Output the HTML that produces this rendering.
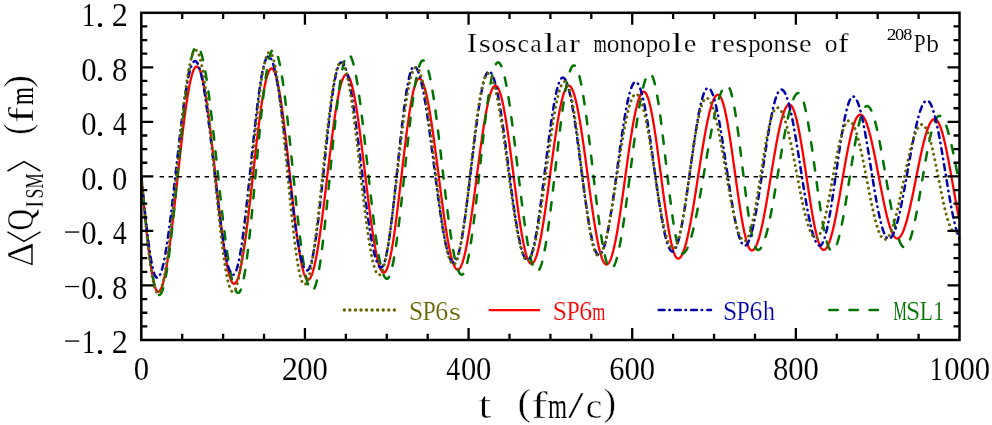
<!DOCTYPE html>
<html><head><meta charset="utf-8"><title>Isoscalar monopole response</title>
<style>html,body{margin:0;padding:0;background:#fff;width:992px;height:425px;overflow:hidden}
text{font-family:"Liberation Serif",serif}</style></head><body>
<svg width="992" height="425" viewBox="0 0 992 425" style="display:block;will-change:transform">
<rect width="992" height="425" fill="#fff"/>
<g font-family="Liberation Serif, serif">
<g fill="none" stroke-linejoin="round">
<path d="M141.30,176.40 L141.80,181.76 L142.30,187.11 L142.80,192.44 L143.30,197.73 L143.80,202.97 L144.30,208.16 L144.80,213.28 L145.30,218.32 L145.80,223.27 L146.30,228.12 L146.80,232.86 L147.30,237.47 L147.80,241.95 L148.30,246.30 L148.80,250.49 L149.30,254.52 L149.80,258.38 L150.30,262.06 L150.80,265.56 L151.30,268.87 L151.80,271.98 L152.30,274.88 L152.80,277.57 L153.30,280.04 L153.80,282.28 L154.30,284.30 L154.80,286.09 L155.30,287.63 L155.80,288.94 L156.30,290.01 L156.80,290.82 L157.30,291.40 L157.80,291.72 L158.20,291.80 L158.70,291.71 L159.20,291.43 L159.70,290.96 L160.20,290.30 L160.70,289.46 L161.20,288.44 L161.70,287.24 L162.20,285.85 L162.70,284.29 L163.20,282.55 L163.70,280.64 L164.20,278.57 L164.70,276.32 L165.20,273.92 L165.70,271.35 L166.20,268.64 L166.70,265.77 L167.20,262.76 L167.70,259.61 L168.20,256.33 L168.70,252.92 L169.20,249.39 L169.70,245.74 L170.20,241.97 L170.70,238.11 L171.20,234.14 L171.70,230.09 L172.20,225.95 L172.70,221.73 L173.20,217.44 L173.70,213.09 L174.20,208.68 L174.70,204.22 L175.20,199.72 L175.70,195.18 L176.20,190.62 L176.70,186.04 L177.20,181.45 L177.70,176.85 L178.20,172.26 L178.70,167.68 L179.20,163.12 L179.70,158.58 L180.20,154.08 L180.70,149.62 L181.20,145.21 L181.70,140.86 L182.20,136.57 L182.70,132.35 L183.20,128.21 L183.70,124.16 L184.20,120.19 L184.70,116.33 L185.20,112.56 L185.70,108.91 L186.20,105.38 L186.70,101.97 L187.20,98.69 L187.70,95.54 L188.20,92.53 L188.70,89.66 L189.20,86.95 L189.70,84.38 L190.20,81.98 L190.70,79.73 L191.20,77.66 L191.70,75.75 L192.20,74.01 L192.70,72.45 L193.20,71.06 L193.70,69.86 L194.20,68.84 L194.70,68.00 L195.20,67.34 L195.70,66.87 L196.20,66.59 L196.70,66.50 L197.20,66.60 L197.70,66.88 L198.20,67.36 L198.70,68.03 L199.20,68.89 L199.70,69.93 L200.20,71.16 L200.70,72.58 L201.20,74.17 L201.70,75.94 L202.20,77.89 L202.70,80.01 L203.20,82.30 L203.70,84.75 L204.20,87.36 L204.70,90.12 L205.20,93.04 L205.70,96.10 L206.20,99.30 L206.70,102.63 L207.20,106.09 L207.70,109.67 L208.20,113.37 L208.70,117.18 L209.20,121.09 L209.70,125.09 L210.20,129.19 L210.70,133.36 L211.20,137.61 L211.70,141.92 L212.20,146.30 L212.70,150.72 L213.20,155.19 L213.70,159.69 L214.20,164.22 L214.70,168.77 L215.20,173.32 L215.70,177.89 L216.20,182.45 L216.70,186.99 L217.20,191.52 L217.70,196.01 L218.20,200.47 L218.70,204.88 L219.20,209.25 L219.70,213.55 L220.20,217.78 L220.70,221.94 L221.20,226.01 L221.70,230.00 L222.20,233.89 L222.70,237.68 L223.20,241.35 L223.70,244.91 L224.20,248.35 L224.70,251.65 L225.20,254.83 L225.70,257.86 L226.20,260.74 L226.70,263.48 L227.20,266.06 L227.70,268.47 L228.20,270.73 L228.70,272.81 L229.20,274.73 L229.70,276.46 L230.20,278.02 L230.70,279.40 L231.20,280.59 L231.70,281.60 L232.20,282.42 L232.70,283.05 L233.20,283.49 L233.70,283.74 L234.10,283.80 L234.60,283.71 L235.10,283.42 L235.60,282.95 L236.10,282.29 L236.60,281.45 L237.10,280.42 L237.60,279.21 L238.10,277.81 L238.60,276.24 L239.10,274.49 L239.60,272.57 L240.10,270.48 L240.60,268.23 L241.10,265.81 L241.60,263.24 L242.10,260.51 L242.60,257.64 L243.10,254.62 L243.60,251.47 L244.10,248.18 L244.60,244.77 L245.10,241.24 L245.60,237.59 L246.10,233.83 L246.60,229.98 L247.10,226.02 L247.60,221.99 L248.10,217.87 L248.60,213.67 L249.10,209.42 L249.60,205.10 L250.10,200.73 L250.60,196.32 L251.10,191.88 L251.60,187.40 L252.10,182.91 L252.60,178.40 L253.10,173.90 L253.60,169.39 L254.10,164.90 L254.60,160.42 L255.10,155.98 L255.60,151.57 L256.10,147.20 L256.60,142.88 L257.10,138.63 L257.60,134.43 L258.10,130.31 L258.60,126.28 L259.10,122.32 L259.60,118.47 L260.10,114.71 L260.60,111.06 L261.10,107.53 L261.60,104.12 L262.10,100.83 L262.60,97.68 L263.10,94.66 L263.60,91.79 L264.10,89.06 L264.60,86.49 L265.10,84.07 L265.60,81.82 L266.10,79.73 L266.60,77.81 L267.10,76.06 L267.60,74.49 L268.10,73.09 L268.60,71.88 L269.10,70.85 L269.60,70.01 L270.10,69.35 L270.60,68.88 L271.10,68.59 L271.60,68.50 L272.10,68.60 L272.60,68.89 L273.10,69.38 L273.60,70.07 L274.10,70.95 L274.60,72.02 L275.10,73.28 L275.60,74.73 L276.10,76.37 L276.60,78.19 L277.10,80.18 L277.60,82.35 L278.10,84.69 L278.60,87.20 L279.10,89.87 L279.60,92.70 L280.10,95.68 L280.60,98.80 L281.10,102.07 L281.60,105.47 L282.10,108.99 L282.60,112.64 L283.10,116.41 L283.60,120.28 L284.10,124.25 L284.60,128.31 L285.10,132.46 L285.60,136.69 L286.10,140.98 L286.60,145.34 L287.10,149.75 L287.60,154.21 L288.10,158.70 L288.60,163.23 L289.10,167.77 L289.60,172.33 L290.10,176.89 L290.60,181.44 L291.10,185.98 L291.60,190.50 L292.10,194.98 L292.60,199.43 L293.10,203.84 L293.60,208.18 L294.10,212.47 L294.60,216.68 L295.10,220.81 L295.60,224.86 L296.10,228.81 L296.60,232.66 L297.10,236.40 L297.60,240.02 L298.10,243.52 L298.60,246.90 L299.10,250.13 L299.60,253.23 L300.10,256.18 L300.60,258.97 L301.10,261.61 L301.60,264.09 L302.10,266.40 L302.60,268.53 L303.10,270.49 L303.60,272.27 L304.10,273.87 L304.60,275.28 L305.10,276.51 L305.60,277.54 L306.10,278.38 L306.60,279.03 L307.10,279.48 L307.60,279.74 L308.00,279.80 L308.50,279.71 L309.00,279.45 L309.50,279.02 L310.00,278.42 L310.50,277.65 L311.00,276.71 L311.50,275.60 L312.00,274.32 L312.50,272.89 L313.00,271.29 L313.50,269.53 L314.00,267.62 L314.50,265.55 L315.00,263.34 L315.50,260.98 L316.00,258.48 L316.50,255.84 L317.00,253.08 L317.50,250.18 L318.00,247.16 L318.50,244.02 L319.00,240.77 L319.50,237.42 L320.00,233.96 L320.50,230.41 L321.00,226.76 L321.50,223.04 L322.00,219.23 L322.50,215.36 L323.00,211.42 L323.50,207.43 L324.00,203.38 L324.50,199.29 L325.00,195.16 L325.50,191.00 L326.00,186.82 L326.50,182.62 L327.00,178.41 L327.50,174.20 L328.00,170.00 L328.50,165.81 L329.00,161.63 L329.50,157.49 L330.00,153.37 L330.50,149.30 L331.00,145.27 L331.50,141.30 L332.00,137.38 L332.50,133.54 L333.00,129.76 L333.50,126.07 L334.00,122.46 L334.50,118.94 L335.00,115.53 L335.50,112.21 L336.00,109.01 L336.50,105.92 L337.00,102.95 L337.50,100.10 L338.00,97.38 L338.50,94.80 L339.00,92.36 L339.50,90.06 L340.00,87.90 L340.50,85.90 L341.00,84.05 L341.50,82.35 L342.00,80.82 L342.50,79.45 L343.00,78.24 L343.50,77.20 L344.00,76.32 L344.50,75.62 L345.00,75.08 L345.50,74.72 L346.00,74.53 L346.30,74.50 L346.80,74.59 L347.30,74.85 L347.80,75.28 L348.30,75.89 L348.80,76.67 L349.30,77.61 L349.80,78.73 L350.30,80.01 L350.80,81.46 L351.30,83.07 L351.80,84.83 L352.30,86.76 L352.80,88.83 L353.30,91.06 L353.80,93.43 L354.30,95.94 L354.80,98.58 L355.30,101.36 L355.80,104.26 L356.30,107.29 L356.80,110.43 L357.30,113.68 L357.80,117.04 L358.30,120.50 L358.80,124.05 L359.30,127.69 L359.80,131.41 L360.30,135.20 L360.80,139.06 L361.30,142.98 L361.80,146.95 L362.30,150.97 L362.80,155.03 L363.30,159.12 L363.80,163.24 L364.30,167.38 L364.80,171.52 L365.30,175.68 L365.80,179.82 L366.30,183.96 L366.80,188.08 L367.30,192.17 L367.80,196.23 L368.30,200.25 L368.80,204.22 L369.30,208.14 L369.80,212.00 L370.30,215.79 L370.80,219.51 L371.30,223.15 L371.80,226.70 L372.30,230.16 L372.80,233.52 L373.30,236.77 L373.80,239.91 L374.30,242.94 L374.80,245.84 L375.30,248.62 L375.80,251.26 L376.30,253.77 L376.80,256.14 L377.30,258.37 L377.80,260.44 L378.30,262.37 L378.80,264.13 L379.30,265.74 L379.80,267.19 L380.30,268.47 L380.80,269.59 L381.30,270.53 L381.80,271.31 L382.30,271.92 L382.80,272.35 L383.30,272.61 L383.80,272.70 L384.30,272.60 L384.80,272.32 L385.30,271.84 L385.80,271.17 L386.30,270.32 L386.80,269.28 L387.30,268.05 L387.80,266.65 L388.30,265.06 L388.80,263.30 L389.30,261.36 L389.80,259.26 L390.30,256.99 L390.80,254.56 L391.30,251.97 L391.80,249.24 L392.30,246.36 L392.80,243.34 L393.30,240.19 L393.80,236.91 L394.30,233.51 L394.80,229.99 L395.30,226.37 L395.80,222.65 L396.30,218.84 L396.80,214.94 L397.30,210.96 L397.80,206.91 L398.30,202.81 L398.80,198.64 L399.30,194.44 L399.80,190.19 L400.30,185.92 L400.80,181.63 L401.30,177.32 L401.80,173.02 L402.30,168.71 L402.80,164.42 L403.30,160.15 L403.80,155.92 L404.30,151.72 L404.80,147.57 L405.30,143.47 L405.80,139.44 L406.30,135.48 L406.80,131.59 L407.30,127.80 L407.80,124.10 L408.30,120.50 L408.80,117.00 L409.30,113.63 L409.80,110.37 L410.30,107.25 L410.80,104.25 L411.30,101.40 L411.80,98.70 L412.30,96.14 L412.80,93.75 L413.30,91.51 L413.80,89.44 L414.30,87.54 L414.80,85.81 L415.30,84.26 L415.80,82.89 L416.30,81.70 L416.80,80.69 L417.30,79.88 L417.80,79.25 L418.30,78.81 L418.80,78.56 L419.20,78.50 L419.70,78.58 L420.20,78.82 L420.70,79.22 L421.20,79.77 L421.70,80.48 L422.20,81.35 L422.70,82.37 L423.20,83.55 L423.70,84.87 L424.20,86.35 L424.70,87.97 L425.20,89.73 L425.70,91.63 L426.20,93.68 L426.70,95.85 L427.20,98.16 L427.70,100.59 L428.20,103.14 L428.70,105.81 L429.20,108.60 L429.70,111.50 L430.20,114.49 L430.70,117.59 L431.20,120.78 L431.70,124.07 L432.20,127.43 L432.70,130.87 L433.20,134.39 L433.70,137.97 L434.20,141.61 L434.70,145.30 L435.20,149.04 L435.70,152.83 L436.20,156.65 L436.70,160.49 L437.20,164.37 L437.70,168.25 L438.20,172.15 L438.70,176.05 L439.20,179.95 L439.70,183.83 L440.20,187.71 L440.70,191.55 L441.20,195.37 L441.70,199.16 L442.20,202.90 L442.70,206.59 L443.20,210.23 L443.70,213.81 L444.20,217.33 L444.70,220.77 L445.20,224.13 L445.70,227.42 L446.20,230.61 L446.70,233.71 L447.20,236.70 L447.70,239.60 L448.20,242.39 L448.70,245.06 L449.20,247.61 L449.70,250.04 L450.20,252.35 L450.70,254.52 L451.20,256.57 L451.70,258.47 L452.20,260.23 L452.70,261.85 L453.20,263.33 L453.70,264.65 L454.20,265.83 L454.70,266.85 L455.20,267.72 L455.70,268.43 L456.20,268.98 L456.70,269.38 L457.20,269.62 L457.70,269.70 L458.20,269.62 L458.70,269.38 L459.20,268.99 L459.70,268.43 L460.20,267.72 L460.70,266.86 L461.20,265.84 L461.70,264.66 L462.20,263.34 L462.70,261.87 L463.20,260.25 L463.70,258.50 L464.20,256.60 L464.70,254.56 L465.20,252.40 L465.70,250.10 L466.20,247.68 L466.70,245.14 L467.20,242.48 L467.70,239.71 L468.20,236.84 L468.70,233.86 L469.20,230.78 L469.70,227.61 L470.20,224.36 L470.70,221.03 L471.20,217.62 L471.70,214.14 L472.20,210.60 L472.70,207.00 L473.20,203.35 L473.70,199.66 L474.20,195.93 L474.70,192.17 L475.20,188.38 L475.70,184.58 L476.20,180.76 L476.70,176.94 L477.20,173.11 L477.70,169.30 L478.20,165.50 L478.70,161.72 L479.20,157.97 L479.70,154.26 L480.20,150.58 L480.70,146.95 L481.20,143.38 L481.70,139.86 L482.20,136.41 L482.70,133.03 L483.20,129.73 L483.70,126.51 L484.20,123.38 L484.70,120.34 L485.20,117.40 L485.70,114.57 L486.20,111.84 L486.70,109.23 L487.20,106.73 L487.70,104.36 L488.20,102.12 L488.70,100.01 L489.20,98.03 L489.70,96.18 L490.20,94.48 L490.70,92.92 L491.20,91.51 L491.70,90.25 L492.20,89.14 L492.70,88.18 L493.20,87.38 L493.70,86.73 L494.20,86.24 L494.70,85.90 L495.20,85.73 L495.50,85.70 L496.00,85.79 L496.50,86.04 L497.00,86.47 L497.50,87.06 L498.00,87.82 L498.50,88.75 L499.00,89.84 L499.50,91.10 L500.00,92.52 L500.50,94.09 L501.00,95.82 L501.50,97.70 L502.00,99.72 L502.50,101.89 L503.00,104.20 L503.50,106.65 L504.00,109.22 L504.50,111.92 L505.00,114.74 L505.50,117.68 L506.00,120.72 L506.50,123.87 L507.00,127.11 L507.50,130.45 L508.00,133.87 L508.50,137.37 L509.00,140.94 L509.50,144.58 L510.00,148.27 L510.50,152.02 L511.00,155.80 L511.50,159.63 L512.00,163.48 L512.50,167.36 L513.00,171.24 L513.50,175.14 L514.00,179.03 L514.50,182.92 L515.00,186.79 L515.50,190.64 L516.00,194.46 L516.50,198.24 L517.00,201.97 L517.50,205.65 L518.00,209.28 L518.50,212.83 L519.00,216.32 L519.50,219.72 L520.00,223.04 L520.50,226.27 L521.00,229.40 L521.50,232.42 L522.00,235.33 L522.50,238.13 L523.00,240.81 L523.50,243.35 L524.00,245.77 L524.50,248.05 L525.00,250.20 L525.50,252.19 L526.00,254.04 L526.50,255.74 L527.00,257.28 L527.50,258.66 L528.00,259.89 L528.50,260.95 L529.00,261.84 L529.50,262.57 L530.00,263.13 L530.50,263.52 L531.00,263.75 L531.40,263.80 L531.90,263.72 L532.40,263.49 L532.90,263.09 L533.40,262.55 L533.90,261.84 L534.40,260.99 L534.90,259.98 L535.40,258.82 L535.90,257.51 L536.40,256.06 L536.90,254.46 L537.40,252.73 L537.90,250.85 L538.40,248.84 L538.90,246.70 L539.40,244.44 L539.90,242.05 L540.40,239.54 L540.90,236.92 L541.40,234.19 L541.90,231.35 L542.40,228.41 L542.90,225.38 L543.40,222.26 L543.90,219.06 L544.40,215.78 L544.90,212.42 L545.40,209.00 L545.90,205.52 L546.40,201.98 L546.90,198.40 L547.40,194.77 L547.90,191.11 L548.40,187.42 L548.90,183.71 L549.40,179.98 L549.90,176.25 L550.40,172.51 L550.90,168.77 L551.40,165.05 L551.90,161.34 L552.40,157.65 L552.90,154.00 L553.40,150.38 L553.90,146.81 L554.40,143.28 L554.90,139.81 L555.40,136.40 L555.90,133.06 L556.40,129.79 L556.90,126.61 L557.40,123.50 L557.90,120.49 L558.40,117.57 L558.90,114.76 L559.40,112.05 L559.90,109.45 L560.40,106.96 L560.90,104.60 L561.40,102.36 L561.90,100.24 L562.40,98.26 L562.90,96.41 L563.40,94.71 L563.90,93.14 L564.40,91.71 L564.90,90.44 L565.40,89.31 L565.90,88.33 L566.40,87.50 L566.90,86.83 L567.40,86.32 L567.90,85.95 L568.40,85.75 L568.80,85.70 L569.30,85.78 L569.80,86.01 L570.30,86.40 L570.80,86.94 L571.30,87.63 L571.80,88.48 L572.30,89.48 L572.80,90.62 L573.30,91.91 L573.80,93.35 L574.30,94.93 L574.80,96.64 L575.30,98.50 L575.80,100.48 L576.30,102.60 L576.80,104.84 L577.30,107.20 L577.80,109.69 L578.30,112.28 L578.80,114.99 L579.30,117.79 L579.80,120.70 L580.30,123.70 L580.80,126.80 L581.30,129.97 L581.80,133.22 L582.30,136.55 L582.80,139.94 L583.30,143.40 L583.80,146.91 L584.30,150.47 L584.80,154.07 L585.30,157.70 L585.80,161.37 L586.30,165.06 L586.80,168.77 L587.30,172.49 L587.80,176.22 L588.30,179.94 L588.80,183.65 L589.30,187.35 L589.80,191.03 L590.30,194.68 L590.80,198.30 L591.30,201.87 L591.80,205.40 L592.30,208.88 L592.80,212.30 L593.30,215.65 L593.80,218.94 L594.30,222.14 L594.80,225.27 L595.30,228.31 L595.80,231.26 L596.30,234.10 L596.80,236.85 L597.30,239.49 L597.80,242.02 L598.30,244.43 L598.80,246.72 L599.30,248.89 L599.80,250.92 L600.30,252.83 L600.80,254.60 L601.30,256.24 L601.80,257.73 L602.30,259.08 L602.80,260.28 L603.30,261.34 L603.80,262.25 L604.30,263.00 L604.80,263.60 L605.30,264.05 L605.80,264.35 L606.30,264.49 L606.50,264.50 L607.00,264.42 L607.50,264.19 L608.00,263.81 L608.50,263.27 L609.00,262.58 L609.50,261.74 L610.00,260.75 L610.50,259.62 L611.00,258.34 L611.50,256.91 L612.00,255.35 L612.50,253.64 L613.00,251.81 L613.50,249.84 L614.00,247.74 L614.50,245.52 L615.00,243.18 L615.50,240.72 L616.00,238.15 L616.50,235.48 L617.00,232.70 L617.50,229.82 L618.00,226.86 L618.50,223.80 L619.00,220.67 L619.50,217.45 L620.00,214.17 L620.50,210.83 L621.00,207.42 L621.50,203.96 L622.00,200.46 L622.50,196.92 L623.00,193.34 L623.50,189.74 L624.00,186.11 L624.50,182.48 L625.00,178.83 L625.50,175.18 L626.00,171.54 L626.50,167.91 L627.00,164.30 L627.50,160.71 L628.00,157.15 L628.50,153.63 L629.00,150.15 L629.50,146.73 L630.00,143.36 L630.50,140.05 L631.00,136.81 L631.50,133.64 L632.00,130.55 L632.50,127.55 L633.00,124.64 L633.50,121.82 L634.00,119.10 L634.50,116.49 L635.00,113.99 L635.50,111.60 L636.00,109.33 L636.50,107.19 L637.00,105.17 L637.50,103.28 L638.00,101.52 L638.50,99.90 L639.00,98.42 L639.50,97.08 L640.00,95.88 L640.50,94.84 L641.00,93.94 L641.50,93.19 L642.00,92.59 L642.50,92.14 L643.00,91.85 L643.50,91.71 L643.70,91.70 L644.20,91.79 L644.70,92.05 L645.20,92.48 L645.70,93.09 L646.20,93.87 L646.70,94.81 L647.20,95.93 L647.70,97.21 L648.20,98.65 L648.70,100.26 L649.20,102.01 L649.70,103.92 L650.20,105.98 L650.70,108.19 L651.20,110.53 L651.70,113.01 L652.20,115.62 L652.70,118.35 L653.20,121.20 L653.70,124.17 L654.20,127.24 L654.70,130.41 L655.20,133.67 L655.70,137.02 L656.20,140.45 L656.70,143.95 L657.20,147.52 L657.70,151.14 L658.20,154.82 L658.70,158.54 L659.20,162.29 L659.70,166.07 L660.20,169.87 L660.70,173.67 L661.20,177.49 L661.70,181.30 L662.20,185.09 L662.70,188.86 L663.20,192.61 L663.70,196.32 L664.20,199.99 L664.70,203.60 L665.20,207.15 L665.70,210.64 L666.20,214.06 L666.70,217.39 L667.20,220.63 L667.70,223.79 L668.20,226.83 L668.70,229.78 L669.20,232.60 L669.70,235.31 L670.20,237.89 L670.70,240.35 L671.20,242.66 L671.70,244.84 L672.20,246.87 L672.70,248.75 L673.20,250.48 L673.70,252.05 L674.20,253.46 L674.70,254.71 L675.20,255.79 L675.70,256.70 L676.20,257.45 L676.70,258.02 L677.20,258.42 L677.70,258.64 L678.10,258.70 L678.60,258.64 L679.10,258.45 L679.60,258.13 L680.10,257.69 L680.60,257.12 L681.10,256.42 L681.60,255.61 L682.10,254.67 L682.60,253.61 L683.10,252.43 L683.60,251.14 L684.10,249.72 L684.60,248.20 L685.10,246.56 L685.60,244.82 L686.10,242.97 L686.60,241.02 L687.10,238.97 L687.60,236.82 L688.10,234.58 L688.60,232.25 L689.10,229.84 L689.60,227.34 L690.10,224.76 L690.60,222.11 L691.10,219.39 L691.60,216.60 L692.10,213.75 L692.60,210.85 L693.10,207.89 L693.60,204.88 L694.10,201.83 L694.60,198.74 L695.10,195.61 L695.60,192.46 L696.10,189.28 L696.60,186.09 L697.10,182.87 L697.60,179.65 L698.10,176.43 L698.60,173.20 L699.10,169.98 L699.60,166.77 L700.10,163.58 L700.60,160.41 L701.10,157.26 L701.60,154.14 L702.10,151.06 L702.60,148.02 L703.10,145.02 L703.60,142.07 L704.10,139.17 L704.60,136.34 L705.10,133.56 L705.60,130.85 L706.10,128.22 L706.60,125.66 L707.10,123.17 L707.60,120.77 L708.10,118.46 L708.60,116.24 L709.10,114.11 L709.60,112.08 L710.10,110.15 L710.60,108.32 L711.10,106.60 L711.60,104.99 L712.10,103.48 L712.60,102.10 L713.10,100.82 L713.60,99.67 L714.10,98.63 L714.60,97.72 L715.10,96.93 L715.60,96.26 L716.10,95.72 L716.60,95.30 L717.10,95.01 L717.60,94.84 L718.00,94.80 L718.50,94.88 L719.00,95.13 L719.50,95.55 L720.00,96.13 L720.50,96.88 L721.00,97.79 L721.50,98.86 L722.00,100.09 L722.50,101.47 L723.00,103.01 L723.50,104.70 L724.00,106.53 L724.50,108.50 L725.00,110.61 L725.50,112.86 L726.00,115.23 L726.50,117.73 L727.00,120.34 L727.50,123.07 L728.00,125.90 L728.50,128.84 L729.00,131.87 L729.50,134.98 L730.00,138.18 L730.50,141.45 L731.00,144.78 L731.50,148.18 L732.00,151.63 L732.50,155.13 L733.00,158.66 L733.50,162.22 L734.00,165.81 L734.50,169.40 L735.00,173.01 L735.50,176.62 L736.00,180.21 L736.50,183.79 L737.00,187.35 L737.50,190.88 L738.00,194.36 L738.50,197.80 L739.00,201.19 L739.50,204.51 L740.00,207.77 L740.50,210.95 L741.00,214.05 L741.50,217.06 L742.00,219.97 L742.50,222.78 L743.00,225.49 L743.50,228.08 L744.00,230.55 L744.50,232.90 L745.00,235.12 L745.50,237.20 L746.00,239.15 L746.50,240.95 L747.00,242.61 L747.50,244.12 L748.00,245.47 L748.50,246.67 L749.00,247.71 L749.50,248.58 L750.00,249.30 L750.50,249.85 L751.00,250.23 L751.50,250.45 L751.90,250.50 L752.40,250.44 L752.90,250.24 L753.40,249.92 L753.90,249.48 L754.40,248.90 L754.90,248.21 L755.40,247.38 L755.90,246.44 L756.40,245.37 L756.90,244.19 L757.40,242.89 L757.90,241.47 L758.40,239.94 L758.90,238.30 L759.40,236.56 L759.90,234.71 L760.40,232.76 L760.90,230.71 L761.40,228.58 L761.90,226.35 L762.40,224.03 L762.90,221.64 L763.40,219.16 L763.90,216.62 L764.40,214.00 L764.90,211.32 L765.40,208.58 L765.90,205.79 L766.40,202.95 L766.90,200.06 L767.40,197.13 L767.90,194.17 L768.40,191.18 L768.90,188.16 L769.40,185.13 L769.90,182.08 L770.40,179.03 L770.90,175.97 L771.40,172.92 L771.90,169.87 L772.40,166.84 L772.90,163.82 L773.40,160.83 L773.90,157.87 L774.40,154.94 L774.90,152.05 L775.40,149.21 L775.90,146.42 L776.40,143.68 L776.90,141.00 L777.40,138.38 L777.90,135.84 L778.40,133.36 L778.90,130.97 L779.40,128.65 L779.90,126.42 L780.40,124.29 L780.90,122.24 L781.40,120.29 L781.90,118.44 L782.40,116.70 L782.90,115.06 L783.40,113.53 L783.90,112.11 L784.40,110.81 L784.90,109.63 L785.40,108.56 L785.90,107.62 L786.40,106.79 L786.90,106.10 L787.40,105.52 L787.90,105.08 L788.40,104.76 L788.90,104.56 L789.40,104.50 L789.90,104.58 L790.40,104.80 L790.90,105.19 L791.40,105.72 L791.90,106.40 L792.40,107.23 L792.90,108.21 L793.40,109.33 L793.90,110.59 L794.40,112.00 L794.90,113.54 L795.40,115.21 L795.90,117.02 L796.40,118.95 L796.90,121.00 L797.40,123.17 L797.90,125.46 L798.40,127.85 L798.90,130.35 L799.40,132.94 L799.90,135.63 L800.40,138.40 L800.90,141.26 L801.40,144.19 L801.90,147.19 L802.40,150.26 L802.90,153.38 L803.40,156.55 L803.90,159.77 L804.40,163.02 L804.90,166.30 L805.40,169.60 L805.90,172.92 L806.40,176.25 L806.90,179.58 L807.40,182.91 L807.90,186.22 L808.40,189.52 L808.90,192.79 L809.40,196.03 L809.90,199.22 L810.40,202.38 L810.90,205.47 L811.40,208.51 L811.90,211.49 L812.40,214.39 L812.90,217.22 L813.40,219.96 L813.90,222.61 L814.40,225.17 L814.90,227.62 L815.40,229.97 L815.90,232.21 L816.40,234.34 L816.90,236.34 L817.40,238.22 L817.90,239.97 L818.40,241.60 L818.90,243.08 L819.40,244.43 L819.90,245.64 L820.40,246.70 L820.90,247.62 L821.40,248.39 L821.90,249.01 L822.40,249.48 L822.90,249.80 L823.40,249.97 L823.70,250.00 L824.20,249.94 L824.70,249.75 L825.20,249.44 L825.70,249.00 L826.20,248.44 L826.70,247.76 L827.20,246.95 L827.70,246.03 L828.20,244.99 L828.70,243.83 L829.20,242.55 L829.70,241.17 L830.20,239.68 L830.70,238.08 L831.20,236.38 L831.70,234.58 L832.20,232.68 L832.70,230.68 L833.20,228.60 L833.70,226.43 L834.20,224.18 L834.70,221.86 L835.20,219.46 L835.70,216.99 L836.20,214.45 L836.70,211.86 L837.20,209.21 L837.70,206.52 L838.20,203.77 L838.70,200.99 L839.20,198.18 L839.70,195.33 L840.20,192.46 L840.70,189.57 L841.20,186.67 L841.70,183.76 L842.20,180.84 L842.70,177.93 L843.20,175.03 L843.70,172.14 L844.20,169.27 L844.70,166.42 L845.20,163.61 L845.70,160.83 L846.20,158.08 L846.70,155.39 L847.20,152.74 L847.70,150.15 L848.20,147.61 L848.70,145.14 L849.20,142.74 L849.70,140.42 L850.20,138.17 L850.70,136.00 L851.20,133.92 L851.70,131.92 L852.20,130.02 L852.70,128.22 L853.20,126.52 L853.70,124.92 L854.20,123.43 L854.70,122.05 L855.20,120.77 L855.70,119.61 L856.20,118.57 L856.70,117.65 L857.20,116.84 L857.70,116.16 L858.20,115.60 L858.70,115.16 L859.20,114.85 L859.70,114.66 L860.20,114.60 L860.70,114.66 L861.20,114.82 L861.70,115.10 L862.20,115.49 L862.70,115.98 L863.20,116.59 L863.70,117.30 L864.20,118.12 L864.70,119.04 L865.20,120.07 L865.70,121.20 L866.20,122.43 L866.70,123.75 L867.20,125.17 L867.70,126.68 L868.20,128.28 L868.70,129.97 L869.20,131.74 L869.70,133.59 L870.20,135.51 L870.70,137.52 L871.20,139.59 L871.70,141.72 L872.20,143.92 L872.70,146.18 L873.20,148.50 L873.70,150.86 L874.20,153.27 L874.70,155.72 L875.20,158.21 L875.70,160.73 L876.20,163.28 L876.70,165.85 L877.20,168.44 L877.70,171.05 L878.20,173.67 L878.70,176.29 L879.20,178.91 L879.70,181.53 L880.20,184.14 L880.70,186.73 L881.20,189.31 L881.70,191.86 L882.20,194.39 L882.70,196.89 L883.20,199.35 L883.70,201.76 L884.20,204.14 L884.70,206.46 L885.20,208.73 L885.70,210.94 L886.20,213.09 L886.70,215.18 L887.20,217.19 L887.70,219.13 L888.20,221.00 L888.70,222.79 L889.20,224.49 L889.70,226.11 L890.20,227.64 L890.70,229.07 L891.20,230.42 L891.70,231.66 L892.20,232.81 L892.70,233.86 L893.20,234.80 L893.70,235.64 L894.20,236.38 L894.70,237.00 L895.20,237.52 L895.70,237.93 L896.20,238.23 L896.70,238.42 L897.20,238.50 L897.30,238.50 L897.80,238.45 L898.30,238.29 L898.80,238.02 L899.30,237.65 L899.80,237.18 L900.30,236.60 L900.80,235.92 L901.30,235.14 L901.80,234.26 L902.30,233.28 L902.80,232.20 L903.30,231.03 L903.80,229.77 L904.30,228.41 L904.80,226.97 L905.30,225.44 L905.80,223.83 L906.30,222.14 L906.80,220.37 L907.30,218.53 L907.80,216.62 L908.30,214.64 L908.80,212.60 L909.30,210.49 L909.80,208.33 L910.30,206.12 L910.80,203.86 L911.30,201.56 L911.80,199.21 L912.30,196.83 L912.80,194.42 L913.30,191.98 L913.80,189.51 L914.30,187.03 L914.80,184.53 L915.30,182.02 L915.80,179.50 L916.30,176.99 L916.80,174.48 L917.30,171.97 L917.80,169.48 L918.30,167.00 L918.80,164.54 L919.30,162.11 L919.80,159.71 L920.30,157.35 L920.80,155.02 L921.30,152.73 L921.80,150.49 L922.30,148.30 L922.80,146.16 L923.30,144.08 L923.80,142.06 L924.30,140.11 L924.80,138.22 L925.30,136.41 L925.80,134.67 L926.30,133.01 L926.80,131.44 L927.30,129.94 L927.80,128.53 L928.30,127.22 L928.80,125.99 L929.30,124.85 L929.80,123.82 L930.30,122.88 L930.80,122.03 L931.30,121.29 L931.80,120.65 L932.30,120.12 L932.80,119.69 L933.30,119.36 L933.80,119.14 L934.30,119.02 L934.60,119.00 L935.10,119.06 L935.60,119.24 L936.10,119.54 L936.60,119.96 L937.10,120.50 L937.60,121.16 L938.10,121.93 L938.60,122.82 L939.10,123.83 L939.60,124.94 L940.10,126.17 L940.60,127.50 L941.10,128.94 L941.60,130.48 L942.10,132.12 L942.60,133.86 L943.10,135.69 L943.60,137.62 L944.10,139.63 L944.60,141.73 L945.10,143.90 L945.60,146.16 L946.10,148.48 L946.60,150.87 L947.10,153.33 L947.60,155.85 L948.10,158.42 L948.60,161.04 L949.10,163.71 L949.60,166.42 L950.10,169.17 L950.60,171.95 L951.10,174.75 L951.60,177.58 L952.10,180.42 L952.60,183.28 L953.10,186.14 L953.60,189.00 L954.10,191.86 L954.60,194.72 L955.10,197.55 L955.60,200.37 L956.10,203.17 L956.60,205.93 L957.10,208.67 L957.60,211.36 L958.10,214.01 L958.60,216.61 L959.10,219.17" stroke="#ff0000" stroke-width="2.3"/>
<path d="M141.30,176.40 L141.80,181.60 L142.30,186.79 L142.80,191.97 L143.30,197.11 L143.80,202.21 L144.30,207.26 L144.80,212.26 L145.30,217.18 L145.80,222.03 L146.30,226.78 L146.80,231.45 L147.30,236.00 L147.80,240.44 L148.30,244.76 L148.80,248.94 L149.30,252.99 L149.80,256.89 L150.30,260.63 L150.80,264.21 L151.30,267.62 L151.80,270.86 L152.30,273.91 L152.80,276.78 L153.30,279.46 L153.80,281.93 L154.30,284.20 L154.80,286.27 L155.30,288.12 L155.80,289.76 L156.30,291.18 L156.80,292.38 L157.30,293.36 L157.80,294.11 L158.30,294.63 L158.80,294.93 L159.20,295.00 L159.70,294.89 L160.20,294.56 L160.70,294.02 L161.20,293.26 L161.70,292.28 L162.20,291.09 L162.70,289.69 L163.20,288.08 L163.70,286.26 L164.20,284.25 L164.70,282.03 L165.20,279.61 L165.70,277.01 L166.20,274.22 L166.70,271.24 L167.20,268.09 L167.70,264.77 L168.20,261.28 L168.70,257.64 L169.20,253.84 L169.70,249.90 L170.20,245.81 L170.70,241.60 L171.20,237.26 L171.70,232.80 L172.20,228.23 L172.70,223.57 L173.20,218.81 L173.70,213.96 L174.20,209.04 L174.70,204.05 L175.20,199.01 L175.70,193.91 L176.20,188.77 L176.70,183.60 L177.20,178.41 L177.70,173.21 L178.20,167.99 L178.70,162.79 L179.20,157.60 L179.70,152.43 L180.20,147.29 L180.70,142.19 L181.20,137.15 L181.70,132.16 L182.20,127.24 L182.70,122.39 L183.20,117.63 L183.70,112.97 L184.20,108.40 L184.70,103.94 L185.20,99.60 L185.70,95.39 L186.20,91.30 L186.70,87.36 L187.20,83.56 L187.70,79.92 L188.20,76.43 L188.70,73.11 L189.20,69.96 L189.70,66.98 L190.20,64.19 L190.70,61.59 L191.20,59.17 L191.70,56.95 L192.20,54.94 L192.70,53.12 L193.20,51.51 L193.70,50.11 L194.20,48.92 L194.70,47.94 L195.20,47.18 L195.70,46.64 L196.20,46.31 L196.70,46.20 L197.20,46.29 L197.70,46.55 L198.20,46.99 L198.70,47.61 L199.20,48.40 L199.70,49.37 L200.20,50.50 L200.70,51.81 L201.20,53.29 L201.70,54.93 L202.20,56.74 L202.70,58.71 L203.20,60.83 L203.70,63.12 L204.20,65.55 L204.70,68.14 L205.20,70.87 L205.70,73.74 L206.20,76.75 L206.70,79.89 L207.20,83.16 L207.70,86.55 L208.20,90.06 L208.70,93.69 L209.20,97.42 L209.70,101.26 L210.20,105.20 L210.70,109.23 L211.20,113.34 L211.70,117.54 L212.20,121.81 L212.70,126.15 L213.20,130.55 L213.70,135.00 L214.20,139.51 L214.70,144.06 L215.20,148.64 L215.70,153.26 L216.20,157.90 L216.70,162.55 L217.20,167.22 L217.70,171.88 L218.20,176.55 L218.70,181.20 L219.20,185.84 L219.70,190.46 L220.20,195.04 L220.70,199.59 L221.20,204.10 L221.70,208.55 L222.20,212.95 L222.70,217.29 L223.20,221.56 L223.70,225.76 L224.20,229.87 L224.70,233.90 L225.20,237.84 L225.70,241.68 L226.20,245.41 L226.70,249.04 L227.20,252.55 L227.70,255.94 L228.20,259.21 L228.70,262.35 L229.20,265.36 L229.70,268.23 L230.20,270.96 L230.70,273.55 L231.20,275.98 L231.70,278.27 L232.20,280.39 L232.70,282.36 L233.20,284.17 L233.70,285.81 L234.20,287.29 L234.70,288.60 L235.20,289.73 L235.70,290.70 L236.20,291.49 L236.70,292.11 L237.20,292.55 L237.70,292.81 L238.20,292.90 L238.70,292.78 L239.20,292.42 L239.70,291.82 L240.20,290.99 L240.70,289.91 L241.20,288.61 L241.70,287.07 L242.20,285.30 L242.70,283.31 L243.20,281.10 L243.70,278.67 L244.20,276.03 L244.70,273.18 L245.20,270.13 L245.70,266.89 L246.20,263.46 L246.70,259.85 L247.20,256.06 L247.70,252.10 L248.20,247.98 L248.70,243.72 L249.20,239.31 L249.70,234.76 L250.20,230.09 L250.70,225.31 L251.20,220.41 L251.70,215.42 L252.20,210.35 L252.70,205.19 L253.20,199.97 L253.70,194.69 L254.20,189.36 L254.70,184.00 L255.20,178.61 L255.70,173.21 L256.20,167.81 L256.70,162.41 L257.20,157.02 L257.70,151.67 L258.20,146.35 L258.70,141.08 L259.20,135.87 L259.70,130.73 L260.20,125.67 L260.70,120.70 L261.20,115.83 L261.70,111.06 L262.20,106.42 L262.70,101.90 L263.20,97.52 L263.70,93.28 L264.20,89.20 L264.70,85.27 L265.20,81.52 L265.70,77.94 L266.20,74.54 L266.70,71.34 L267.20,68.33 L267.70,65.52 L268.20,62.93 L268.70,60.54 L269.20,58.37 L269.70,56.43 L270.20,54.70 L270.70,53.21 L271.20,51.95 L271.70,50.93 L272.20,50.14 L272.70,49.59 L273.20,49.28 L273.60,49.20 L274.10,49.30 L274.60,49.60 L275.10,50.11 L275.60,50.81 L276.10,51.72 L276.60,52.82 L277.10,54.12 L277.60,55.61 L278.10,57.30 L278.60,59.17 L279.10,61.23 L279.60,63.47 L280.10,65.89 L280.60,68.48 L281.10,71.24 L281.60,74.17 L282.10,77.26 L282.60,80.51 L283.10,83.90 L283.60,87.44 L284.10,91.11 L284.60,94.92 L285.10,98.86 L285.60,102.91 L286.10,107.07 L286.60,111.35 L287.10,115.71 L287.60,120.17 L288.10,124.72 L288.60,129.34 L289.10,134.02 L289.60,138.77 L290.10,143.57 L290.60,148.42 L291.10,153.30 L291.60,158.20 L292.10,163.13 L292.60,168.07 L293.10,173.02 L293.60,177.95 L294.10,182.88 L294.60,187.78 L295.10,192.66 L295.60,197.49 L296.10,202.28 L296.60,207.02 L297.10,211.69 L297.60,216.30 L298.10,220.82 L298.60,225.27 L299.10,229.62 L299.60,233.87 L300.10,238.01 L300.60,242.04 L301.10,245.95 L301.60,249.73 L302.10,253.38 L302.60,256.89 L303.10,260.25 L303.60,263.47 L304.10,266.53 L304.60,269.42 L305.10,272.15 L305.60,274.71 L306.10,277.09 L306.60,279.30 L307.10,281.32 L307.60,283.15 L308.10,284.80 L308.60,286.25 L309.10,287.51 L309.60,288.58 L310.10,289.44 L310.60,290.11 L311.10,290.57 L311.60,290.84 L312.00,290.90 L312.50,290.79 L313.00,290.46 L313.50,289.90 L314.00,289.13 L314.50,288.14 L315.00,286.94 L315.50,285.51 L316.00,283.88 L316.50,282.04 L317.00,280.00 L317.50,277.75 L318.00,275.31 L318.50,272.67 L319.00,269.85 L319.50,266.84 L320.00,263.66 L320.50,260.31 L321.00,256.79 L321.50,253.12 L322.00,249.29 L322.50,245.33 L323.00,241.22 L323.50,236.99 L324.00,232.63 L324.50,228.17 L325.00,223.60 L325.50,218.93 L326.00,214.18 L326.50,209.35 L327.00,204.45 L327.50,199.49 L328.00,194.49 L328.50,189.44 L329.00,184.35 L329.50,179.25 L330.00,174.14 L330.50,169.02 L331.00,163.91 L331.50,158.81 L332.00,153.74 L332.50,148.71 L333.00,143.72 L333.50,138.78 L334.00,133.91 L334.50,129.11 L335.00,124.39 L335.50,119.76 L336.00,115.23 L336.50,110.81 L337.00,106.50 L337.50,102.32 L338.00,98.27 L338.50,94.36 L339.00,90.59 L339.50,86.98 L340.00,83.53 L340.50,80.25 L341.00,77.13 L341.50,74.20 L342.00,71.45 L342.50,68.89 L343.00,66.53 L343.50,64.36 L344.00,62.40 L344.50,60.64 L345.00,59.09 L345.50,57.76 L346.00,56.64 L346.50,55.73 L347.00,55.05 L347.50,54.58 L348.00,54.34 L348.30,54.30 L348.80,54.39 L349.30,54.67 L349.80,55.14 L350.30,55.79 L350.80,56.63 L351.30,57.65 L351.80,58.85 L352.30,60.23 L352.80,61.78 L353.30,63.51 L353.80,65.42 L354.30,67.49 L354.80,69.72 L355.30,72.12 L355.80,74.67 L356.30,77.38 L356.80,80.24 L357.30,83.23 L357.80,86.37 L358.30,89.64 L358.80,93.04 L359.30,96.56 L359.80,100.20 L360.30,103.95 L360.80,107.80 L361.30,111.75 L361.80,115.79 L362.30,119.92 L362.80,124.12 L363.30,128.40 L363.80,132.74 L364.30,137.13 L364.80,141.57 L365.30,146.06 L365.80,150.58 L366.30,155.12 L366.80,159.68 L367.30,164.26 L367.80,168.84 L368.30,173.42 L368.80,177.98 L369.30,182.52 L369.80,187.04 L370.30,191.53 L370.80,195.97 L371.30,200.36 L371.80,204.70 L372.30,208.98 L372.80,213.18 L373.30,217.31 L373.80,221.35 L374.30,225.30 L374.80,229.15 L375.30,232.90 L375.80,236.54 L376.30,240.06 L376.80,243.46 L377.30,246.73 L377.80,249.87 L378.30,252.86 L378.80,255.72 L379.30,258.43 L379.80,260.98 L380.30,263.38 L380.80,265.61 L381.30,267.68 L381.80,269.59 L382.30,271.32 L382.80,272.87 L383.30,274.25 L383.80,275.45 L384.30,276.47 L384.80,277.31 L385.30,277.96 L385.80,278.43 L386.30,278.71 L386.80,278.80 L387.30,278.70 L387.80,278.39 L388.30,277.88 L388.80,277.16 L389.30,276.24 L389.80,275.12 L390.30,273.80 L390.80,272.29 L391.30,270.58 L391.80,268.68 L392.30,266.59 L392.80,264.33 L393.30,261.88 L393.80,259.26 L394.30,256.47 L394.80,253.52 L395.30,250.41 L395.80,247.15 L396.30,243.74 L396.80,240.19 L397.30,236.51 L397.80,232.71 L398.30,228.78 L398.80,224.75 L399.30,220.61 L399.80,216.37 L400.30,212.04 L400.80,207.64 L401.30,203.16 L401.80,198.63 L402.30,194.03 L402.80,189.39 L403.30,184.71 L403.80,180.01 L404.30,175.28 L404.80,170.55 L405.30,165.81 L405.80,161.08 L406.30,156.37 L406.80,151.68 L407.30,147.02 L407.80,142.41 L408.30,137.84 L408.80,133.34 L409.30,128.91 L409.80,124.55 L410.30,120.28 L410.80,116.10 L411.30,112.02 L411.80,108.05 L412.30,104.19 L412.80,100.46 L413.30,96.86 L413.80,93.40 L414.30,90.07 L414.80,86.90 L415.30,83.89 L415.80,81.03 L416.30,78.35 L416.80,75.83 L417.30,73.49 L417.80,71.33 L418.30,69.36 L418.80,67.57 L419.30,65.98 L419.80,64.58 L420.30,63.38 L420.80,62.38 L421.30,61.59 L421.80,60.99 L422.30,60.60 L422.80,60.42 L423.00,60.40 L423.50,60.49 L424.00,60.75 L424.50,61.19 L425.00,61.81 L425.50,62.60 L426.00,63.56 L426.50,64.70 L427.00,66.00 L427.50,67.47 L428.00,69.11 L428.50,70.90 L429.00,72.86 L429.50,74.97 L430.00,77.24 L430.50,79.65 L431.00,82.21 L431.50,84.91 L432.00,87.75 L432.50,90.71 L433.00,93.81 L433.50,97.02 L434.00,100.36 L434.50,103.80 L435.00,107.34 L435.50,110.99 L436.00,114.73 L436.50,118.56 L437.00,122.46 L437.50,126.45 L438.00,130.49 L438.50,134.60 L439.00,138.77 L439.50,142.98 L440.00,147.23 L440.50,151.52 L441.00,155.83 L441.50,160.16 L442.00,164.51 L442.50,168.85 L443.00,173.20 L443.50,177.54 L444.00,181.86 L444.50,186.16 L445.00,190.42 L445.50,194.65 L446.00,198.84 L446.50,202.97 L447.00,207.04 L447.50,211.05 L448.00,214.99 L448.50,218.85 L449.00,222.62 L449.50,226.31 L450.00,229.90 L450.50,233.38 L451.00,236.76 L451.50,240.02 L452.00,243.16 L452.50,246.18 L453.00,249.07 L453.50,251.82 L454.00,254.44 L454.50,256.91 L455.00,259.24 L455.50,261.41 L456.00,263.43 L456.50,265.29 L457.00,267.00 L457.50,268.53 L458.00,269.90 L458.50,271.11 L459.00,272.14 L459.50,273.00 L460.00,273.68 L460.50,274.19 L461.00,274.53 L461.50,274.69 L461.70,274.70 L462.20,274.60 L462.70,274.30 L463.20,273.81 L463.70,273.11 L464.20,272.23 L464.70,271.14 L465.20,269.87 L465.70,268.40 L466.20,266.75 L466.70,264.92 L467.20,262.90 L467.70,260.71 L468.20,258.34 L468.70,255.81 L469.20,253.11 L469.70,250.26 L470.20,247.25 L470.70,244.10 L471.20,240.80 L471.70,237.37 L472.20,233.81 L472.70,230.12 L473.20,226.32 L473.70,222.42 L474.20,218.41 L474.70,214.31 L475.20,210.12 L475.70,205.86 L476.20,201.53 L476.70,197.13 L477.20,192.68 L477.70,188.19 L478.20,183.66 L478.70,179.10 L479.20,174.52 L479.70,169.93 L480.20,165.34 L480.70,160.75 L481.20,156.18 L481.70,151.63 L482.20,147.11 L482.70,142.63 L483.20,138.20 L483.70,133.83 L484.20,129.52 L484.70,125.29 L485.20,121.14 L485.70,117.07 L486.20,113.11 L486.70,109.24 L487.20,105.49 L487.70,101.85 L488.20,98.34 L488.70,94.97 L489.20,91.73 L489.70,88.63 L490.20,85.68 L490.70,82.89 L491.20,80.26 L491.70,77.79 L492.20,75.49 L492.70,73.37 L493.20,71.43 L493.70,69.67 L494.20,68.09 L494.70,66.70 L495.20,65.50 L495.70,64.50 L496.20,63.69 L496.70,63.07 L497.20,62.65 L497.70,62.44 L498.00,62.40 L498.50,62.48 L499.00,62.74 L499.50,63.16 L500.00,63.75 L500.50,64.51 L501.00,65.44 L501.50,66.53 L502.00,67.78 L502.50,69.19 L503.00,70.77 L503.50,72.49 L504.00,74.38 L504.50,76.41 L505.00,78.59 L505.50,80.91 L506.00,83.37 L506.50,85.97 L507.00,88.69 L507.50,91.55 L508.00,94.53 L508.50,97.62 L509.00,100.83 L509.50,104.14 L510.00,107.56 L510.50,111.07 L511.00,114.67 L511.50,118.36 L512.00,122.13 L512.50,125.97 L513.00,129.88 L513.50,133.84 L514.00,137.86 L514.50,141.93 L515.00,146.04 L515.50,150.18 L516.00,154.35 L516.50,158.54 L517.00,162.74 L517.50,166.95 L518.00,171.16 L518.50,175.36 L519.00,179.55 L519.50,183.72 L520.00,187.86 L520.50,191.97 L521.00,196.04 L521.50,200.06 L522.00,204.02 L522.50,207.93 L523.00,211.77 L523.50,215.54 L524.00,219.22 L524.50,222.83 L525.00,226.34 L525.50,229.76 L526.00,233.07 L526.50,236.28 L527.00,239.37 L527.50,242.35 L528.00,245.21 L528.50,247.93 L529.00,250.53 L529.50,252.99 L530.00,255.31 L530.50,257.49 L531.00,259.52 L531.50,261.41 L532.00,263.13 L532.50,264.71 L533.00,266.12 L533.50,267.37 L534.00,268.46 L534.50,269.39 L535.00,270.15 L535.50,270.74 L536.00,271.16 L536.50,271.42 L537.00,271.50 L537.50,271.41 L538.00,271.13 L538.50,270.66 L539.00,270.01 L539.50,269.17 L540.00,268.16 L540.50,266.96 L541.00,265.58 L541.50,264.03 L542.00,262.30 L542.50,260.41 L543.00,258.34 L543.50,256.12 L544.00,253.73 L544.50,251.20 L545.00,248.51 L545.50,245.67 L546.00,242.70 L546.50,239.59 L547.00,236.35 L547.50,232.99 L548.00,229.52 L548.50,225.93 L549.00,222.24 L549.50,218.45 L550.00,214.57 L550.50,210.60 L551.00,206.56 L551.50,202.46 L552.00,198.29 L552.50,194.06 L553.00,189.79 L553.50,185.48 L554.00,181.14 L554.50,176.78 L555.00,172.40 L555.50,168.01 L556.00,163.63 L556.50,159.25 L557.00,154.89 L557.50,150.56 L558.00,146.25 L558.50,141.99 L559.00,137.78 L559.50,133.62 L560.00,129.52 L560.50,125.50 L561.00,121.55 L561.50,117.69 L562.00,113.92 L562.50,110.24 L563.00,106.68 L563.50,103.22 L564.00,99.89 L564.50,96.68 L565.00,93.59 L565.50,90.65 L566.00,87.84 L566.50,85.18 L567.00,82.68 L567.50,80.32 L568.00,78.13 L568.50,76.10 L569.00,74.24 L569.50,72.55 L570.00,71.03 L570.50,69.69 L571.00,68.53 L571.50,67.54 L572.00,66.75 L572.50,66.13 L573.00,65.70 L573.50,65.46 L573.90,65.40 L574.40,65.49 L574.90,65.76 L575.40,66.22 L575.90,66.86 L576.40,67.67 L576.90,68.67 L577.40,69.84 L577.90,71.18 L578.40,72.70 L578.90,74.39 L579.40,76.24 L579.90,78.26 L580.40,80.44 L580.90,82.77 L581.40,85.25 L581.90,87.88 L582.40,90.65 L582.90,93.56 L583.40,96.60 L583.90,99.77 L584.40,103.06 L584.90,106.46 L585.40,109.97 L585.90,113.59 L586.40,117.30 L586.90,121.10 L587.40,124.98 L587.90,128.94 L588.40,132.97 L588.90,137.06 L589.40,141.20 L589.90,145.39 L590.40,149.62 L590.90,153.88 L591.40,158.16 L591.90,162.46 L592.40,166.77 L592.90,171.08 L593.40,175.38 L593.90,179.67 L594.40,183.93 L594.90,188.17 L595.40,192.37 L595.90,196.52 L596.40,200.62 L596.90,204.66 L597.40,208.63 L597.90,212.53 L598.40,216.35 L598.90,220.08 L599.40,223.71 L599.90,227.25 L600.40,230.67 L600.90,233.98 L601.40,237.18 L601.90,240.24 L602.40,243.18 L602.90,245.98 L603.40,248.64 L603.90,251.15 L604.40,253.51 L604.90,255.72 L605.40,257.77 L605.90,259.65 L606.40,261.37 L606.90,262.93 L607.40,264.31 L607.90,265.51 L608.40,266.54 L608.90,267.39 L609.40,268.07 L609.90,268.56 L610.40,268.87 L610.90,269.00 L611.00,269.00 L611.50,268.92 L612.00,268.68 L612.50,268.28 L613.00,267.72 L613.50,267.00 L614.00,266.13 L614.50,265.10 L615.00,263.92 L615.50,262.58 L616.00,261.10 L616.50,259.47 L617.00,257.69 L617.50,255.77 L618.00,253.72 L618.50,251.52 L619.00,249.20 L619.50,246.75 L620.00,244.17 L620.50,241.48 L621.00,238.67 L621.50,235.75 L622.00,232.73 L622.50,229.60 L623.00,226.38 L623.50,223.06 L624.00,219.67 L624.50,216.19 L625.00,212.64 L625.50,209.02 L626.00,205.34 L626.50,201.61 L627.00,197.82 L627.50,193.99 L628.00,190.13 L628.50,186.23 L629.00,182.31 L629.50,178.37 L630.00,174.42 L630.50,170.46 L631.00,166.50 L631.50,162.56 L632.00,158.62 L632.50,154.71 L633.00,150.82 L633.50,146.97 L634.00,143.16 L634.50,139.39 L635.00,135.68 L635.50,132.02 L636.00,128.43 L636.50,124.91 L637.00,121.46 L637.50,118.10 L638.00,114.82 L638.50,111.64 L639.00,108.55 L639.50,105.57 L640.00,102.69 L640.50,99.93 L641.00,97.28 L641.50,94.76 L642.00,92.36 L642.50,90.08 L643.00,87.95 L643.50,85.94 L644.00,84.08 L644.50,82.36 L645.00,80.79 L645.50,79.37 L646.00,78.09 L646.50,76.97 L647.00,76.00 L647.50,75.19 L648.00,74.54 L648.50,74.04 L649.00,73.70 L649.50,73.53 L649.80,73.50 L650.30,73.61 L650.80,73.92 L651.30,74.45 L651.80,75.19 L652.30,76.13 L652.80,77.28 L653.30,78.64 L653.80,80.19 L654.30,81.94 L654.80,83.88 L655.30,86.00 L655.80,88.31 L656.30,90.80 L656.80,93.46 L657.30,96.28 L657.80,99.26 L658.30,102.39 L658.80,105.67 L659.30,109.08 L659.80,112.62 L660.30,116.28 L660.80,120.05 L661.30,123.92 L661.80,127.88 L662.30,131.93 L662.80,136.06 L663.30,140.24 L663.80,144.49 L664.30,148.77 L664.80,153.10 L665.30,157.44 L665.80,161.80 L666.30,166.17 L666.80,170.53 L667.30,174.87 L667.80,179.19 L668.30,183.47 L668.80,187.70 L669.30,191.87 L669.80,195.98 L670.30,200.02 L670.80,203.96 L671.30,207.82 L671.80,211.57 L672.30,215.20 L672.80,218.71 L673.30,222.10 L673.80,225.35 L674.30,228.45 L674.80,231.40 L675.30,234.19 L675.80,236.81 L676.30,239.26 L676.80,241.54 L677.30,243.63 L677.80,245.53 L678.30,247.24 L678.80,248.75 L679.30,250.06 L679.80,251.17 L680.30,252.08 L680.80,252.77 L681.30,253.26 L681.80,253.53 L682.20,253.60 L682.70,253.55 L683.20,253.39 L683.70,253.14 L684.20,252.77 L684.70,252.31 L685.20,251.75 L685.70,251.08 L686.20,250.32 L686.70,249.45 L687.20,248.49 L687.70,247.43 L688.20,246.27 L688.70,245.02 L689.20,243.68 L689.70,242.24 L690.20,240.72 L690.70,239.11 L691.20,237.41 L691.70,235.63 L692.20,233.77 L692.70,231.83 L693.20,229.81 L693.70,227.72 L694.20,225.56 L694.70,223.33 L695.20,221.03 L695.70,218.67 L696.20,216.25 L696.70,213.77 L697.20,211.23 L697.70,208.65 L698.20,206.02 L698.70,203.34 L699.20,200.62 L699.70,197.87 L700.20,195.07 L700.70,192.25 L701.20,189.40 L701.70,186.53 L702.20,183.63 L702.70,180.72 L703.20,177.79 L703.70,174.85 L704.20,171.91 L704.70,168.96 L705.20,166.01 L705.70,163.07 L706.20,160.14 L706.70,157.22 L707.20,154.31 L707.70,151.42 L708.20,148.56 L708.70,145.72 L709.20,142.91 L709.70,140.13 L710.20,137.39 L710.70,134.68 L711.20,132.02 L711.70,129.41 L712.20,126.85 L712.70,124.33 L713.20,121.88 L713.70,119.48 L714.20,117.15 L714.70,114.87 L715.20,112.67 L715.70,110.54 L716.20,108.47 L716.70,106.49 L717.20,104.58 L717.70,102.75 L718.20,101.00 L718.70,99.34 L719.20,97.76 L719.70,96.27 L720.20,94.88 L720.70,93.57 L721.20,92.36 L721.70,91.24 L722.20,90.22 L722.70,89.29 L723.20,88.47 L723.70,87.74 L724.20,87.11 L724.70,86.59 L725.20,86.17 L725.70,85.85 L726.20,85.63 L726.70,85.52 L727.00,85.50 L727.50,85.61 L728.00,85.92 L728.50,86.45 L729.00,87.18 L729.50,88.13 L730.00,89.27 L730.50,90.62 L731.00,92.17 L731.50,93.91 L732.00,95.83 L732.50,97.95 L733.00,100.24 L733.50,102.71 L734.00,105.34 L734.50,108.14 L735.00,111.08 L735.50,114.17 L736.00,117.40 L736.50,120.76 L737.00,124.24 L737.50,127.83 L738.00,131.53 L738.50,135.31 L739.00,139.18 L739.50,143.13 L740.00,147.13 L740.50,151.19 L741.00,155.30 L741.50,159.43 L742.00,163.58 L742.50,167.75 L743.00,171.92 L743.50,176.07 L744.00,180.20 L744.50,184.31 L745.00,188.37 L745.50,192.37 L746.00,196.32 L746.50,200.19 L747.00,203.97 L747.50,207.67 L748.00,211.26 L748.50,214.74 L749.00,218.10 L749.50,221.33 L750.00,224.42 L750.50,227.36 L751.00,230.16 L751.50,232.79 L752.00,235.26 L752.50,237.55 L753.00,239.67 L753.50,241.59 L754.00,243.33 L754.50,244.88 L755.00,246.23 L755.50,247.37 L756.00,248.32 L756.50,249.05 L757.00,249.58 L757.50,249.89 L758.00,250.00 L758.50,249.94 L759.00,249.76 L759.50,249.47 L760.00,249.06 L760.50,248.53 L761.00,247.88 L761.50,247.12 L762.00,246.25 L762.50,245.27 L763.00,244.17 L763.50,242.96 L764.00,241.65 L764.50,240.23 L765.00,238.71 L765.50,237.09 L766.00,235.36 L766.50,233.55 L767.00,231.63 L767.50,229.63 L768.00,227.54 L768.50,225.37 L769.00,223.12 L769.50,220.78 L770.00,218.38 L770.50,215.90 L771.00,213.36 L771.50,210.75 L772.00,208.08 L772.50,205.36 L773.00,202.59 L773.50,199.77 L774.00,196.91 L774.50,194.01 L775.00,191.08 L775.50,188.12 L776.00,185.13 L776.50,182.12 L777.00,179.10 L777.50,176.06 L778.00,173.02 L778.50,169.98 L779.00,166.94 L779.50,163.90 L780.00,160.88 L780.50,157.87 L781.00,154.88 L781.50,151.92 L782.00,148.99 L782.50,146.09 L783.00,143.23 L783.50,140.41 L784.00,137.64 L784.50,134.92 L785.00,132.25 L785.50,129.64 L786.00,127.10 L786.50,124.62 L787.00,122.22 L787.50,119.88 L788.00,117.63 L788.50,115.46 L789.00,113.37 L789.50,111.37 L790.00,109.45 L790.50,107.64 L791.00,105.91 L791.50,104.29 L792.00,102.77 L792.50,101.35 L793.00,100.04 L793.50,98.83 L794.00,97.73 L794.50,96.75 L795.00,95.88 L795.50,95.12 L796.00,94.47 L796.50,93.94 L797.00,93.53 L797.50,93.24 L798.00,93.06 L798.50,93.00 L799.00,93.09 L799.50,93.35 L800.00,93.78 L800.50,94.39 L801.00,95.16 L801.50,96.11 L802.00,97.22 L802.50,98.49 L803.00,99.93 L803.50,101.53 L804.00,103.28 L804.50,105.18 L805.00,107.23 L805.50,109.42 L806.00,111.75 L806.50,114.21 L807.00,116.80 L807.50,119.51 L808.00,122.33 L808.50,125.27 L809.00,128.30 L809.50,131.44 L810.00,134.66 L810.50,137.96 L811.00,141.34 L811.50,144.79 L812.00,148.29 L812.50,151.85 L813.00,155.45 L813.50,159.09 L814.00,162.76 L814.50,166.45 L815.00,170.15 L815.50,173.85 L816.00,177.55 L816.50,181.24 L817.00,184.91 L817.50,188.55 L818.00,192.15 L818.50,195.71 L819.00,199.21 L819.50,202.66 L820.00,206.04 L820.50,209.34 L821.00,212.56 L821.50,215.70 L822.00,218.73 L822.50,221.67 L823.00,224.49 L823.50,227.20 L824.00,229.79 L824.50,232.25 L825.00,234.58 L825.50,236.77 L826.00,238.82 L826.50,240.72 L827.00,242.47 L827.50,244.07 L828.00,245.51 L828.50,246.78 L829.00,247.89 L829.50,248.84 L830.00,249.61 L830.50,250.22 L831.00,250.65 L831.50,250.91 L832.00,251.00 L832.50,250.93 L833.00,250.71 L833.50,250.34 L834.00,249.83 L834.50,249.18 L835.00,248.39 L835.50,247.45 L836.00,246.38 L836.50,245.17 L837.00,243.82 L837.50,242.34 L838.00,240.74 L838.50,239.01 L839.00,237.15 L839.50,235.18 L840.00,233.10 L840.50,230.90 L841.00,228.60 L841.50,226.20 L842.00,223.70 L842.50,221.11 L843.00,218.44 L843.50,215.69 L844.00,212.86 L844.50,209.96 L845.00,206.99 L845.50,203.97 L846.00,200.90 L846.50,197.79 L847.00,194.63 L847.50,191.45 L848.00,188.23 L848.50,185.00 L849.00,181.75 L849.50,178.50 L850.00,175.25 L850.50,172.00 L851.00,168.77 L851.50,165.55 L852.00,162.37 L852.50,159.21 L853.00,156.10 L853.50,153.03 L854.00,150.01 L854.50,147.04 L855.00,144.14 L855.50,141.31 L856.00,138.56 L856.50,135.89 L857.00,133.30 L857.50,130.80 L858.00,128.40 L858.50,126.10 L859.00,123.90 L859.50,121.82 L860.00,119.85 L860.50,117.99 L861.00,116.26 L861.50,114.66 L862.00,113.18 L862.50,111.83 L863.00,110.62 L863.50,109.55 L864.00,108.61 L864.50,107.82 L865.00,107.17 L865.50,106.66 L866.00,106.29 L866.50,106.07 L867.00,106.00 L867.50,106.06 L868.00,106.25 L868.50,106.55 L869.00,106.98 L869.50,107.54 L870.00,108.21 L870.50,109.00 L871.00,109.91 L871.50,110.94 L872.00,112.08 L872.50,113.33 L873.00,114.70 L873.50,116.17 L874.00,117.75 L874.50,119.43 L875.00,121.21 L875.50,123.09 L876.00,125.06 L876.50,127.13 L877.00,129.28 L877.50,131.51 L878.00,133.82 L878.50,136.20 L879.00,138.66 L879.50,141.18 L880.00,143.76 L880.50,146.41 L881.00,149.10 L881.50,151.84 L882.00,154.63 L882.50,157.45 L883.00,160.31 L883.50,163.20 L884.00,166.11 L884.50,169.04 L885.00,171.98 L885.50,174.93 L886.00,177.88 L886.50,180.83 L887.00,183.78 L887.50,186.71 L888.00,189.62 L888.50,192.51 L889.00,195.38 L889.50,198.21 L890.00,201.00 L890.50,203.76 L891.00,206.46 L891.50,209.11 L892.00,211.71 L892.50,214.24 L893.00,216.71 L893.50,219.11 L894.00,221.44 L894.50,223.68 L895.00,225.85 L895.50,227.93 L896.00,229.92 L896.50,231.82 L897.00,233.62 L897.50,235.32 L898.00,236.92 L898.50,238.41 L899.00,239.80 L899.50,241.08 L900.00,242.24 L900.50,243.29 L901.00,244.23 L901.50,245.04 L902.00,245.74 L902.50,246.31 L903.00,246.77 L903.50,247.10 L904.00,247.31 L904.50,247.40 L904.60,247.40 L905.10,247.33 L905.60,247.13 L906.10,246.80 L906.60,246.33 L907.10,245.73 L907.60,245.00 L908.10,244.15 L908.60,243.16 L909.10,242.05 L909.60,240.81 L910.10,239.46 L910.60,237.99 L911.10,236.40 L911.60,234.70 L912.10,232.90 L912.60,230.99 L913.10,228.97 L913.60,226.87 L914.10,224.67 L914.60,222.38 L915.10,220.01 L915.60,217.56 L916.10,215.04 L916.60,212.45 L917.10,209.80 L917.60,207.09 L918.10,204.32 L918.60,201.52 L919.10,198.67 L919.60,195.78 L920.10,192.87 L920.60,189.94 L921.10,186.99 L921.60,184.02 L922.10,181.06 L922.60,178.09 L923.10,175.13 L923.60,172.19 L924.10,169.26 L924.60,166.36 L925.10,163.49 L925.60,160.66 L926.10,157.87 L926.60,155.12 L927.10,152.44 L927.60,149.81 L928.10,147.25 L928.60,144.75 L929.10,142.33 L929.60,140.00 L930.10,137.74 L930.60,135.58 L931.10,133.51 L931.60,131.54 L932.10,129.67 L932.60,127.90 L933.10,126.25 L933.60,124.71 L934.10,123.28 L934.60,121.98 L935.10,120.79 L935.60,119.73 L936.10,118.80 L936.60,117.99 L937.10,117.31 L937.60,116.77 L938.10,116.35 L938.60,116.07 L939.10,115.92 L939.40,115.90 L939.90,115.95 L940.40,116.12 L940.90,116.39 L941.40,116.76 L941.90,117.25 L942.40,117.84 L942.90,118.53 L943.40,119.33 L943.90,120.23 L944.40,121.24 L944.90,122.34 L945.40,123.54 L945.90,124.83 L946.40,126.21 L946.90,127.69 L947.40,129.25 L947.90,130.90 L948.40,132.63 L948.90,134.44 L949.40,136.33 L949.90,138.29 L950.40,140.31 L950.90,142.41 L951.40,144.56 L951.90,146.78 L952.40,149.04 L952.90,151.36 L953.40,153.73 L953.90,156.13 L954.40,158.58 L954.90,161.06 L955.40,163.57 L955.90,166.10 L956.40,168.65 L956.90,171.22 L957.40,173.81 L957.90,176.39 L958.40,178.99 L958.90,181.58 L959.40,184.16" stroke="#007400" stroke-width="2.5" stroke-linecap="round" stroke-dasharray="8.4 11.7"/>
<path d="M141.30,176.40 L141.80,181.41 L142.30,186.40 L142.80,191.37 L143.30,196.30 L143.80,201.19 L144.30,206.01 L144.80,210.77 L145.30,215.44 L145.80,220.01 L146.30,224.48 L146.80,228.83 L147.30,233.05 L147.80,237.13 L148.30,241.07 L148.80,244.84 L149.30,248.45 L149.80,251.89 L150.30,255.14 L150.80,258.20 L151.30,261.06 L151.80,263.71 L152.30,266.15 L152.80,268.37 L153.30,270.37 L153.80,272.13 L154.30,273.67 L154.80,274.96 L155.30,276.02 L155.80,276.83 L156.30,277.40 L156.80,277.72 L157.20,277.80 L157.70,277.71 L158.20,277.43 L158.70,276.96 L159.20,276.31 L159.70,275.47 L160.20,274.45 L160.70,273.25 L161.20,271.86 L161.70,270.31 L162.20,268.57 L162.70,266.67 L163.20,264.60 L163.70,262.36 L164.20,259.97 L164.70,257.41 L165.20,254.71 L165.70,251.86 L166.20,248.86 L166.70,245.73 L167.20,242.47 L167.70,239.08 L168.20,235.57 L168.70,231.94 L169.20,228.21 L169.70,224.38 L170.20,220.45 L170.70,216.43 L171.20,212.34 L171.70,208.16 L172.20,203.92 L172.70,199.63 L173.20,195.27 L173.70,190.88 L174.20,186.45 L174.70,181.98 L175.20,177.50 L175.70,173.00 L176.20,168.50 L176.70,164.00 L177.20,159.50 L177.70,155.03 L178.20,150.58 L178.70,146.16 L179.20,141.78 L179.70,137.45 L180.20,133.17 L180.70,128.96 L181.20,124.82 L181.70,120.75 L182.20,116.77 L182.70,112.88 L183.20,109.08 L183.70,105.39 L184.20,101.81 L184.70,98.35 L185.20,95.01 L185.70,91.80 L186.20,88.72 L186.70,85.78 L187.20,82.99 L187.70,80.35 L188.20,77.86 L188.70,75.52 L189.20,73.35 L189.70,71.35 L190.20,69.51 L190.70,67.85 L191.20,66.36 L191.70,65.05 L192.20,63.92 L192.70,62.97 L193.20,62.21 L193.70,61.63 L194.20,61.24 L194.70,61.03 L195.00,61.00 L195.50,61.09 L196.00,61.36 L196.50,61.82 L197.00,62.45 L197.50,63.26 L198.00,64.25 L198.50,65.42 L199.00,66.76 L199.50,68.27 L200.00,69.95 L200.50,71.80 L201.00,73.81 L201.50,75.98 L202.00,78.31 L202.50,80.79 L203.00,83.42 L203.50,86.19 L204.00,89.10 L204.50,92.14 L205.00,95.31 L205.50,98.61 L206.00,102.02 L206.50,105.55 L207.00,109.18 L207.50,112.91 L208.00,116.73 L208.50,120.64 L209.00,124.63 L209.50,128.70 L210.00,132.83 L210.50,137.02 L211.00,141.26 L211.50,145.55 L212.00,149.87 L212.50,154.23 L213.00,158.61 L213.50,163.01 L214.00,167.41 L214.50,171.81 L215.00,176.21 L215.50,180.59 L216.00,184.96 L216.50,189.29 L217.00,193.59 L217.50,197.84 L218.00,202.04 L218.50,206.18 L219.00,210.26 L219.50,214.27 L220.00,218.19 L220.50,222.04 L221.00,225.79 L221.50,229.44 L222.00,232.98 L222.50,236.42 L223.00,239.74 L223.50,242.94 L224.00,246.01 L224.50,248.94 L225.00,251.74 L225.50,254.40 L226.00,256.91 L226.50,259.26 L227.00,261.47 L227.50,263.51 L228.00,265.39 L228.50,267.11 L229.00,268.65 L229.50,270.03 L230.00,271.23 L230.50,272.25 L231.00,273.10 L231.50,273.77 L232.00,274.26 L232.50,274.57 L233.00,274.70 L233.10,274.70 L233.60,274.59 L234.10,274.27 L234.60,273.73 L235.10,272.98 L235.60,272.02 L236.10,270.85 L236.60,269.47 L237.10,267.89 L237.60,266.11 L238.10,264.12 L238.60,261.95 L239.10,259.58 L239.60,257.03 L240.10,254.30 L240.60,251.39 L241.10,248.32 L241.60,245.08 L242.10,241.68 L242.60,238.14 L243.10,234.45 L243.60,230.62 L244.10,226.67 L244.60,222.60 L245.10,218.41 L245.60,214.12 L246.10,209.74 L246.60,205.27 L247.10,200.72 L247.60,196.10 L248.10,191.42 L248.60,186.69 L249.10,181.91 L249.60,177.11 L250.10,172.28 L250.60,167.44 L251.10,162.59 L251.60,157.75 L252.10,152.93 L252.60,148.13 L253.10,143.37 L253.60,138.64 L254.10,133.97 L254.60,129.37 L255.10,124.83 L255.60,120.38 L256.10,116.01 L256.60,111.74 L257.10,107.58 L257.60,103.53 L258.10,99.60 L258.60,95.80 L259.10,92.14 L259.60,88.63 L260.10,85.26 L260.60,82.06 L261.10,79.01 L261.60,76.14 L262.10,73.45 L262.60,70.93 L263.10,68.60 L263.60,66.46 L264.10,64.52 L264.60,62.78 L265.10,61.23 L265.60,59.90 L266.10,58.77 L266.60,57.85 L267.10,57.14 L267.60,56.65 L268.10,56.37 L268.50,56.30 L269.00,56.39 L269.50,56.66 L270.00,57.10 L270.50,57.72 L271.00,58.52 L271.50,59.49 L272.00,60.64 L272.50,61.95 L273.00,63.44 L273.50,65.09 L274.00,66.91 L274.50,68.88 L275.00,71.01 L275.50,73.30 L276.00,75.74 L276.50,78.32 L277.00,81.05 L277.50,83.91 L278.00,86.90 L278.50,90.02 L279.00,93.26 L279.50,96.62 L280.00,100.10 L280.50,103.67 L281.00,107.35 L281.50,111.12 L282.00,114.97 L282.50,118.91 L283.00,122.92 L283.50,127.00 L284.00,131.14 L284.50,135.33 L285.00,139.57 L285.50,143.85 L286.00,148.16 L286.50,152.49 L287.00,156.85 L287.50,161.22 L288.00,165.58 L288.50,169.95 L289.00,174.31 L289.50,178.64 L290.00,182.95 L290.50,187.23 L291.00,191.47 L291.50,195.66 L292.00,199.80 L292.50,203.88 L293.00,207.89 L293.50,211.83 L294.00,215.68 L294.50,219.45 L295.00,223.13 L295.50,226.70 L296.00,230.18 L296.50,233.54 L297.00,236.78 L297.50,239.90 L298.00,242.89 L298.50,245.75 L299.00,248.48 L299.50,251.06 L300.00,253.50 L300.50,255.79 L301.00,257.92 L301.50,259.89 L302.00,261.71 L302.50,263.36 L303.00,264.85 L303.50,266.16 L304.00,267.31 L304.50,268.28 L305.00,269.08 L305.50,269.70 L306.00,270.14 L306.50,270.41 L307.00,270.50 L307.50,270.39 L308.00,270.06 L308.50,269.52 L309.00,268.76 L309.50,267.78 L310.00,266.60 L310.50,265.20 L311.00,263.59 L311.50,261.79 L312.00,259.78 L312.50,257.57 L313.00,255.18 L313.50,252.60 L314.00,249.84 L314.50,246.90 L315.00,243.80 L315.50,240.53 L316.00,237.11 L316.50,233.53 L317.00,229.82 L317.50,225.98 L318.00,222.01 L318.50,217.92 L319.00,213.73 L319.50,209.44 L320.00,205.05 L320.50,200.59 L321.00,196.06 L321.50,191.46 L322.00,186.81 L322.50,182.11 L323.00,177.39 L323.50,172.64 L324.00,167.88 L324.50,163.12 L325.00,158.36 L325.50,153.62 L326.00,148.90 L326.50,144.23 L327.00,139.60 L327.50,135.02 L328.00,130.51 L328.50,126.08 L329.00,121.73 L329.50,117.48 L330.00,113.33 L330.50,109.29 L331.00,105.37 L331.50,101.58 L332.00,97.92 L332.50,94.41 L333.00,91.05 L333.50,87.84 L334.00,84.80 L334.50,81.94 L335.00,79.25 L335.50,76.74 L336.00,74.42 L336.50,72.29 L337.00,70.37 L337.50,68.64 L338.00,67.12 L338.50,65.80 L339.00,64.70 L339.50,63.81 L340.00,63.14 L340.50,62.68 L341.00,62.44 L341.30,62.40 L341.80,62.48 L342.30,62.72 L342.80,63.12 L343.30,63.68 L343.80,64.40 L344.30,65.28 L344.80,66.31 L345.30,67.49 L345.80,68.83 L346.30,70.32 L346.80,71.96 L347.30,73.74 L347.80,75.67 L348.30,77.74 L348.80,79.94 L349.30,82.27 L349.80,84.74 L350.30,87.33 L350.80,90.04 L351.30,92.87 L351.80,95.81 L352.30,98.86 L352.80,102.01 L353.30,105.27 L353.80,108.61 L354.30,112.04 L354.80,115.56 L355.30,119.15 L355.80,122.82 L356.30,126.55 L356.80,130.34 L357.30,134.19 L357.80,138.08 L358.30,142.02 L358.80,145.99 L359.30,149.99 L359.80,154.02 L360.30,158.06 L360.80,162.11 L361.30,166.17 L361.80,170.22 L362.30,174.27 L362.80,178.30 L363.30,182.31 L363.80,186.30 L364.30,190.25 L364.80,194.16 L365.30,198.03 L365.80,201.84 L366.30,205.60 L366.80,209.29 L367.30,212.91 L367.80,216.46 L368.30,219.93 L368.80,223.31 L369.30,226.60 L369.80,229.79 L370.30,232.88 L370.80,235.87 L371.30,238.74 L371.80,241.50 L372.30,244.14 L372.80,246.66 L373.30,249.04 L373.80,251.30 L374.30,253.42 L374.80,255.40 L375.30,257.24 L375.80,258.94 L376.30,260.49 L376.80,261.89 L377.30,263.14 L377.80,264.23 L378.30,265.17 L378.80,265.95 L379.30,266.57 L379.80,267.04 L380.30,267.34 L380.80,267.49 L381.00,267.50 L381.50,267.39 L382.00,267.05 L382.50,266.48 L383.00,265.69 L383.50,264.68 L384.00,263.45 L384.50,262.00 L385.00,260.34 L385.50,258.47 L386.00,256.39 L386.50,254.11 L387.00,251.63 L387.50,248.96 L388.00,246.11 L388.50,243.08 L389.00,239.88 L389.50,236.52 L390.00,232.99 L390.50,229.32 L391.00,225.51 L391.50,221.57 L392.00,217.50 L392.50,213.32 L393.00,209.04 L393.50,204.66 L394.00,200.19 L394.50,195.65 L395.00,191.05 L395.50,186.39 L396.00,181.69 L396.50,176.95 L397.00,172.20 L397.50,167.43 L398.00,162.66 L398.50,157.90 L399.00,153.16 L399.50,148.45 L400.00,143.78 L400.50,139.16 L401.00,134.61 L401.50,130.13 L402.00,125.73 L402.50,121.43 L403.00,117.23 L403.50,113.14 L404.00,109.17 L404.50,105.33 L405.00,101.63 L405.50,98.08 L406.00,94.68 L406.50,91.44 L407.00,88.38 L407.50,85.49 L408.00,82.79 L408.50,80.27 L409.00,77.95 L409.50,75.83 L410.00,73.92 L410.50,72.21 L411.00,70.72 L411.50,69.45 L412.00,68.39 L412.50,67.56 L413.00,66.95 L413.50,66.56 L414.00,66.40 L414.10,66.40 L414.60,66.48 L415.10,66.71 L415.60,67.10 L416.10,67.64 L416.60,68.33 L417.10,69.18 L417.60,70.18 L418.10,71.32 L418.60,72.62 L419.10,74.06 L419.60,75.64 L420.10,77.36 L420.60,79.22 L421.10,81.21 L421.60,83.34 L422.10,85.60 L422.60,87.98 L423.10,90.48 L423.60,93.10 L424.10,95.83 L424.60,98.67 L425.10,101.61 L425.60,104.65 L426.10,107.79 L426.60,111.02 L427.10,114.33 L427.60,117.72 L428.10,121.18 L428.60,124.72 L429.10,128.31 L429.60,131.97 L430.10,135.67 L430.60,139.42 L431.10,143.21 L431.60,147.04 L432.10,150.89 L432.60,154.76 L433.10,158.65 L433.60,162.55 L434.10,166.45 L434.60,170.35 L435.10,174.24 L435.60,178.11 L436.10,181.96 L436.60,185.79 L437.10,189.58 L437.60,193.33 L438.10,197.03 L438.60,200.69 L439.10,204.28 L439.60,207.82 L440.10,211.28 L440.60,214.67 L441.10,217.98 L441.60,221.21 L442.10,224.35 L442.60,227.39 L443.10,230.33 L443.60,233.17 L444.10,235.90 L444.60,238.52 L445.10,241.02 L445.60,243.40 L446.10,245.66 L446.60,247.79 L447.10,249.78 L447.60,251.64 L448.10,253.36 L448.60,254.94 L449.10,256.38 L449.60,257.68 L450.10,258.82 L450.60,259.82 L451.10,260.67 L451.60,261.36 L452.10,261.90 L452.60,262.29 L453.10,262.52 L453.60,262.60 L454.10,262.51 L454.60,262.22 L455.10,261.75 L455.60,261.10 L456.10,260.26 L456.60,259.23 L457.10,258.03 L457.60,256.64 L458.10,255.08 L458.60,253.35 L459.10,251.44 L459.60,249.37 L460.10,247.14 L460.60,244.75 L461.10,242.21 L461.60,239.51 L462.10,236.68 L462.60,233.71 L463.10,230.61 L463.60,227.38 L464.10,224.03 L464.60,220.57 L465.10,217.01 L465.60,213.35 L466.10,209.60 L466.60,205.76 L467.10,201.85 L467.60,197.86 L468.10,193.82 L468.60,189.73 L469.10,185.59 L469.60,181.41 L470.10,177.21 L470.60,172.98 L471.10,168.75 L471.60,164.51 L472.10,160.27 L472.60,156.05 L473.10,151.85 L473.60,147.68 L474.10,143.55 L474.60,139.47 L475.10,135.43 L475.60,131.47 L476.10,127.57 L476.60,123.75 L477.10,120.01 L477.60,116.37 L478.10,112.83 L478.60,109.39 L479.10,106.07 L479.60,102.86 L480.10,99.79 L480.60,96.84 L481.10,94.04 L481.60,91.37 L482.10,88.86 L482.60,86.50 L483.10,84.30 L483.60,82.26 L484.10,80.39 L484.60,78.69 L485.10,77.17 L485.60,75.82 L486.10,74.65 L486.60,73.66 L487.10,72.86 L487.60,72.24 L488.10,71.80 L488.60,71.56 L489.00,71.50 L489.50,71.58 L490.00,71.81 L490.50,72.21 L491.00,72.75 L491.50,73.45 L492.00,74.31 L492.50,75.32 L493.00,76.48 L493.50,77.78 L494.00,79.24 L494.50,80.83 L495.00,82.57 L495.50,84.45 L496.00,86.46 L496.50,88.61 L497.00,90.88 L497.50,93.28 L498.00,95.79 L498.50,98.43 L499.00,101.18 L499.50,104.03 L500.00,106.99 L500.50,110.04 L501.00,113.19 L501.50,116.42 L502.00,119.74 L502.50,123.13 L503.00,126.60 L503.50,130.13 L504.00,133.72 L504.50,137.36 L505.00,141.05 L505.50,144.78 L506.00,148.54 L506.50,152.34 L507.00,156.15 L507.50,159.99 L508.00,163.83 L508.50,167.67 L509.00,171.51 L509.50,175.35 L510.00,179.16 L510.50,182.96 L511.00,186.72 L511.50,190.45 L512.00,194.14 L512.50,197.78 L513.00,201.37 L513.50,204.90 L514.00,208.37 L514.50,211.76 L515.00,215.08 L515.50,218.31 L516.00,221.46 L516.50,224.51 L517.00,227.47 L517.50,230.32 L518.00,233.07 L518.50,235.71 L519.00,238.22 L519.50,240.62 L520.00,242.89 L520.50,245.04 L521.00,247.05 L521.50,248.93 L522.00,250.67 L522.50,252.26 L523.00,253.72 L523.50,255.02 L524.00,256.18 L524.50,257.19 L525.00,258.05 L525.50,258.75 L526.00,259.29 L526.50,259.69 L527.00,259.92 L527.50,260.00 L528.00,259.91 L528.50,259.64 L529.00,259.19 L529.50,258.56 L530.00,257.75 L530.50,256.77 L531.00,255.61 L531.50,254.28 L532.00,252.78 L532.50,251.12 L533.00,249.29 L533.50,247.30 L534.00,245.16 L534.50,242.87 L535.00,240.43 L535.50,237.85 L536.00,235.13 L536.50,232.28 L537.00,229.30 L537.50,226.20 L538.00,223.00 L538.50,219.68 L539.00,216.26 L539.50,212.75 L540.00,209.15 L540.50,205.47 L541.00,201.72 L541.50,197.91 L542.00,194.03 L542.50,190.11 L543.00,186.14 L543.50,182.14 L544.00,178.12 L544.50,174.07 L545.00,170.02 L545.50,165.96 L546.00,161.91 L546.50,157.87 L547.00,153.85 L547.50,149.86 L548.00,145.92 L548.50,142.01 L549.00,138.16 L549.50,134.37 L550.00,130.65 L550.50,127.00 L551.00,123.43 L551.50,119.96 L552.00,116.58 L552.50,113.31 L553.00,110.14 L553.50,107.09 L554.00,104.17 L554.50,101.37 L555.00,98.71 L555.50,96.18 L556.00,93.80 L556.50,91.56 L557.00,89.48 L557.50,87.56 L558.00,85.80 L558.50,84.20 L559.00,82.77 L559.50,81.50 L560.00,80.42 L560.50,79.50 L561.00,78.77 L561.50,78.21 L562.00,77.83 L562.50,77.63 L562.80,77.60 L563.30,77.68 L563.80,77.93 L564.30,78.35 L564.80,78.93 L565.30,79.68 L565.80,80.59 L566.30,81.66 L566.80,82.89 L567.30,84.28 L567.80,85.82 L568.30,87.51 L568.80,89.36 L569.30,91.34 L569.80,93.47 L570.30,95.73 L570.80,98.13 L571.30,100.66 L571.80,103.31 L572.30,106.08 L572.80,108.96 L573.30,111.95 L573.80,115.04 L574.30,118.23 L574.80,121.51 L575.30,124.87 L575.80,128.31 L576.30,131.82 L576.80,135.40 L577.30,139.04 L577.80,142.72 L578.30,146.46 L578.80,150.22 L579.30,154.02 L579.80,157.85 L580.30,161.68 L580.80,165.53 L581.30,169.38 L581.80,173.22 L582.30,177.05 L582.80,180.86 L583.30,184.64 L583.80,188.39 L584.30,192.09 L584.80,195.75 L585.30,199.35 L585.80,202.89 L586.30,206.36 L586.80,209.76 L587.30,213.07 L587.80,216.30 L588.30,219.43 L588.80,222.46 L589.30,225.38 L589.80,228.20 L590.30,230.90 L590.80,233.47 L591.30,235.92 L591.80,238.24 L592.30,240.42 L592.80,242.47 L593.30,244.37 L593.80,246.12 L594.30,247.72 L594.80,249.17 L595.30,250.47 L595.80,251.60 L596.30,252.58 L596.80,253.39 L597.30,254.04 L597.80,254.52 L598.30,254.84 L598.80,254.99 L599.00,255.00 L599.50,254.92 L600.00,254.68 L600.50,254.28 L601.00,253.73 L601.50,253.02 L602.00,252.15 L602.50,251.13 L603.00,249.95 L603.50,248.63 L604.00,247.16 L604.50,245.54 L605.00,243.78 L605.50,241.88 L606.00,239.85 L606.50,237.69 L607.00,235.39 L607.50,232.98 L608.00,230.45 L608.50,227.80 L609.00,225.04 L609.50,222.18 L610.00,219.22 L610.50,216.17 L611.00,213.03 L611.50,209.81 L612.00,206.51 L612.50,203.14 L613.00,199.71 L613.50,196.22 L614.00,192.68 L614.50,189.09 L615.00,185.47 L615.50,181.81 L616.00,178.13 L616.50,174.44 L617.00,170.73 L617.50,167.02 L618.00,163.31 L618.50,159.61 L619.00,155.92 L619.50,152.26 L620.00,148.63 L620.50,145.04 L621.00,141.49 L621.50,137.99 L622.00,134.54 L622.50,131.16 L623.00,127.85 L623.50,124.61 L624.00,121.45 L624.50,118.38 L625.00,115.40 L625.50,112.52 L626.00,109.74 L626.50,107.07 L627.00,104.52 L627.50,102.08 L628.00,99.76 L628.50,97.57 L629.00,95.51 L629.50,93.59 L630.00,91.80 L630.50,90.16 L631.00,88.66 L631.50,87.30 L632.00,86.10 L632.50,85.04 L633.00,84.15 L633.50,83.40 L634.00,82.81 L634.50,82.39 L635.00,82.11 L635.50,82.00 L635.60,82.00 L636.10,82.08 L636.60,82.31 L637.10,82.69 L637.60,83.23 L638.10,83.91 L638.60,84.75 L639.10,85.73 L639.60,86.87 L640.10,88.14 L640.60,89.56 L641.10,91.12 L641.60,92.82 L642.10,94.65 L642.60,96.61 L643.10,98.70 L643.60,100.91 L644.10,103.24 L644.60,105.69 L645.10,108.24 L645.60,110.90 L646.10,113.67 L646.60,116.53 L647.10,119.48 L647.60,122.51 L648.10,125.63 L648.60,128.82 L649.10,132.08 L649.60,135.40 L650.10,138.78 L650.60,142.21 L651.10,145.69 L651.60,149.20 L652.10,152.74 L652.60,156.31 L653.10,159.90 L653.60,163.50 L654.10,167.11 L654.60,170.72 L655.10,174.32 L655.60,177.90 L656.10,181.47 L656.60,185.01 L657.10,188.51 L657.60,191.98 L658.10,195.40 L658.60,198.77 L659.10,202.08 L659.60,205.32 L660.10,208.50 L660.60,211.60 L661.10,214.62 L661.60,217.55 L662.10,220.39 L662.60,223.14 L663.10,225.78 L663.60,228.31 L664.10,230.74 L664.60,233.04 L665.10,235.23 L665.60,237.29 L666.10,239.23 L666.60,241.03 L667.10,242.70 L667.60,244.23 L668.10,245.62 L668.60,246.87 L669.10,247.97 L669.60,248.93 L670.10,249.74 L670.60,250.39 L671.10,250.90 L671.60,251.25 L672.10,251.45 L672.50,251.50 L673.00,251.42 L673.50,251.18 L674.00,250.78 L674.50,250.22 L675.00,249.51 L675.50,248.64 L676.00,247.61 L676.50,246.43 L677.00,245.10 L677.50,243.63 L678.00,242.01 L678.50,240.24 L679.00,238.34 L679.50,236.31 L680.00,234.15 L680.50,231.85 L681.00,229.44 L681.50,226.91 L682.00,224.27 L682.50,221.52 L683.00,218.68 L683.50,215.73 L684.00,212.70 L684.50,209.58 L685.00,206.38 L685.50,203.11 L686.00,199.78 L686.50,196.38 L687.00,192.94 L687.50,189.45 L688.00,185.92 L688.50,182.36 L689.00,178.77 L689.50,175.17 L690.00,171.56 L690.50,167.94 L691.00,164.33 L691.50,160.73 L692.00,157.14 L692.50,153.58 L693.00,150.05 L693.50,146.56 L694.00,143.12 L694.50,139.72 L695.00,136.39 L695.50,133.12 L696.00,129.92 L696.50,126.80 L697.00,123.77 L697.50,120.82 L698.00,117.98 L698.50,115.23 L699.00,112.59 L699.50,110.06 L700.00,107.65 L700.50,105.35 L701.00,103.19 L701.50,101.16 L702.00,99.26 L702.50,97.49 L703.00,95.87 L703.50,94.40 L704.00,93.07 L704.50,91.89 L705.00,90.86 L705.50,89.99 L706.00,89.28 L706.50,88.72 L707.00,88.32 L707.50,88.08 L708.00,88.00 L708.50,88.07 L709.00,88.29 L709.50,88.65 L710.00,89.15 L710.50,89.79 L711.00,90.57 L711.50,91.49 L712.00,92.55 L712.50,93.75 L713.00,95.07 L713.50,96.53 L714.00,98.12 L714.50,99.83 L715.00,101.66 L715.50,103.62 L716.00,105.69 L716.50,107.86 L717.00,110.15 L717.50,112.54 L718.00,115.03 L718.50,117.61 L719.00,120.29 L719.50,123.04 L720.00,125.88 L720.50,128.79 L721.00,131.77 L721.50,134.82 L722.00,137.92 L722.50,141.08 L723.00,144.28 L723.50,147.53 L724.00,150.81 L724.50,154.12 L725.00,157.45 L725.50,160.80 L726.00,164.16 L726.50,167.52 L727.00,170.89 L727.50,174.24 L728.00,177.59 L728.50,180.91 L729.00,184.21 L729.50,187.47 L730.00,190.70 L730.50,193.89 L731.00,197.02 L731.50,200.11 L732.00,203.13 L732.50,206.08 L733.00,208.96 L733.50,211.77 L734.00,214.49 L734.50,217.13 L735.00,219.68 L735.50,222.13 L736.00,224.48 L736.50,226.72 L737.00,228.86 L737.50,230.88 L738.00,232.78 L738.50,234.57 L739.00,236.23 L739.50,237.77 L740.00,239.17 L740.50,240.45 L741.00,241.59 L741.50,242.59 L742.00,243.46 L742.50,244.18 L743.00,244.77 L743.50,245.21 L744.00,245.52 L744.50,245.67 L744.80,245.70 L745.30,245.63 L745.80,245.41 L746.30,245.05 L746.80,244.55 L747.30,243.90 L747.80,243.11 L748.30,242.18 L748.80,241.12 L749.30,239.91 L749.80,238.58 L750.30,237.11 L750.80,235.51 L751.30,233.79 L751.80,231.95 L752.30,229.98 L752.80,227.91 L753.30,225.71 L753.80,223.42 L754.30,221.01 L754.80,218.51 L755.30,215.92 L755.80,213.23 L756.30,210.46 L756.80,207.62 L757.30,204.69 L757.80,201.70 L758.30,198.65 L758.80,195.54 L759.30,192.37 L759.80,189.16 L760.30,185.91 L760.80,182.63 L761.30,179.32 L761.80,175.99 L762.30,172.64 L762.80,169.28 L763.30,165.92 L763.80,162.56 L764.30,159.21 L764.80,155.88 L765.30,152.57 L765.80,149.29 L766.30,146.04 L766.80,142.83 L767.30,139.66 L767.80,136.55 L768.30,133.50 L768.80,130.51 L769.30,127.58 L769.80,124.74 L770.30,121.97 L770.80,119.28 L771.30,116.69 L771.80,114.19 L772.30,111.78 L772.80,109.49 L773.30,107.29 L773.80,105.22 L774.30,103.25 L774.80,101.41 L775.30,99.69 L775.80,98.09 L776.30,96.62 L776.80,95.29 L777.30,94.08 L777.80,93.02 L778.30,92.09 L778.80,91.30 L779.30,90.65 L779.80,90.15 L780.30,89.79 L780.80,89.57 L781.30,89.50 L781.80,89.57 L782.30,89.76 L782.80,90.09 L783.30,90.54 L783.80,91.13 L784.30,91.84 L784.80,92.68 L785.30,93.64 L785.80,94.73 L786.30,95.94 L786.80,97.27 L787.30,98.72 L787.80,100.29 L788.30,101.96 L788.80,103.75 L789.30,105.64 L789.80,107.64 L790.30,109.73 L790.80,111.93 L791.30,114.21 L791.80,116.59 L792.30,119.05 L792.80,121.59 L793.30,124.21 L793.80,126.90 L794.30,129.66 L794.80,132.49 L795.30,135.37 L795.80,138.30 L796.30,141.29 L796.80,144.32 L797.30,147.39 L797.80,150.49 L798.30,153.62 L798.80,156.77 L799.30,159.94 L799.80,163.13 L800.30,166.32 L800.80,169.52 L801.30,172.71 L801.80,175.89 L802.30,179.06 L802.80,182.21 L803.30,185.33 L803.80,188.43 L804.30,191.49 L804.80,194.51 L805.30,197.49 L805.80,200.41 L806.30,203.28 L806.80,206.10 L807.30,208.84 L807.80,211.52 L808.30,214.12 L808.80,216.65 L809.30,219.09 L809.80,221.45 L810.30,223.72 L810.80,225.90 L811.30,227.97 L811.80,229.95 L812.30,231.82 L812.80,233.58 L813.30,235.24 L813.80,236.78 L814.30,238.20 L814.80,239.51 L815.30,240.69 L815.80,241.76 L816.30,242.70 L816.80,243.51 L817.30,244.20 L817.80,244.76 L818.30,245.19 L818.80,245.49 L819.30,245.66 L819.70,245.70 L820.20,245.62 L820.70,245.37 L821.20,244.96 L821.70,244.38 L822.20,243.65 L822.70,242.75 L823.20,241.69 L823.70,240.48 L824.20,239.12 L824.70,237.60 L825.20,235.94 L825.70,234.13 L826.20,232.19 L826.70,230.11 L827.20,227.89 L827.70,225.56 L828.20,223.10 L828.70,220.53 L829.20,217.85 L829.70,215.06 L830.20,212.18 L830.70,209.21 L831.20,206.15 L831.70,203.02 L832.20,199.81 L832.70,196.54 L833.20,193.22 L833.70,189.84 L834.20,186.43 L834.70,182.98 L835.20,179.50 L835.70,176.01 L836.20,172.50 L836.70,169.00 L837.20,165.49 L837.70,162.00 L838.20,158.53 L838.70,155.09 L839.20,151.68 L839.70,148.31 L840.20,145.00 L840.70,141.74 L841.20,138.55 L841.70,135.43 L842.20,132.39 L842.70,129.44 L843.20,126.57 L843.70,123.81 L844.20,121.15 L844.70,118.60 L845.20,116.16 L845.70,113.85 L846.20,111.67 L846.70,109.61 L847.20,107.70 L847.70,105.92 L848.20,104.28 L848.70,102.80 L849.20,101.46 L849.70,100.28 L850.20,99.26 L850.70,98.39 L851.20,97.69 L851.70,97.15 L852.20,96.77 L852.70,96.55 L853.10,96.50 L853.60,96.57 L854.10,96.78 L854.60,97.12 L855.10,97.61 L855.60,98.23 L856.10,98.98 L856.60,99.87 L857.10,100.89 L857.60,102.04 L858.10,103.32 L858.60,104.72 L859.10,106.25 L859.60,107.90 L860.10,109.66 L860.60,111.53 L861.10,113.52 L861.60,115.61 L862.10,117.80 L862.60,120.09 L863.10,122.47 L863.60,124.94 L864.10,127.49 L864.60,130.12 L865.10,132.83 L865.60,135.60 L866.10,138.43 L866.60,141.33 L867.10,144.27 L867.60,147.26 L868.10,150.29 L868.60,153.35 L869.10,156.44 L869.60,159.55 L870.10,162.68 L870.60,165.82 L871.10,168.96 L871.60,172.10 L872.10,175.23 L872.60,178.34 L873.10,181.44 L873.60,184.50 L874.10,187.54 L874.60,190.54 L875.10,193.49 L875.60,196.39 L876.10,199.24 L876.60,202.02 L877.10,204.74 L877.60,207.39 L878.10,209.96 L878.60,212.44 L879.10,214.84 L879.60,217.15 L880.10,219.36 L880.60,221.47 L881.10,223.48 L881.60,225.38 L882.10,227.16 L882.60,228.83 L883.10,230.38 L883.60,231.81 L884.10,233.11 L884.60,234.29 L885.10,235.34 L885.60,236.25 L886.10,237.03 L886.60,237.68 L887.10,238.19 L887.60,238.56 L888.10,238.80 L888.60,238.90 L888.70,238.90 L889.20,238.84 L889.70,238.67 L890.20,238.38 L890.70,237.97 L891.20,237.45 L891.70,236.82 L892.20,236.07 L892.70,235.21 L893.20,234.24 L893.70,233.16 L894.20,231.98 L894.70,230.69 L895.20,229.30 L895.70,227.80 L896.20,226.21 L896.70,224.53 L897.20,222.75 L897.70,220.88 L898.20,218.93 L898.70,216.90 L899.20,214.78 L899.70,212.59 L900.20,210.33 L900.70,208.00 L901.20,205.60 L901.70,203.15 L902.20,200.63 L902.70,198.07 L903.20,195.46 L903.70,192.80 L904.20,190.11 L904.70,187.38 L905.20,184.62 L905.70,181.84 L906.20,179.04 L906.70,176.22 L907.20,173.39 L907.70,170.55 L908.20,167.71 L908.70,164.88 L909.20,162.05 L909.70,159.24 L910.20,156.44 L910.70,153.67 L911.20,150.92 L911.70,148.21 L912.20,145.53 L912.70,142.89 L913.20,140.30 L913.70,137.75 L914.20,135.26 L914.70,132.83 L915.20,130.46 L915.70,128.16 L916.20,125.92 L916.70,123.76 L917.20,121.68 L917.70,119.68 L918.20,117.76 L918.70,115.93 L919.20,114.19 L919.70,112.54 L920.20,110.99 L920.70,109.54 L921.20,108.18 L921.70,106.94 L922.20,105.79 L922.70,104.76 L923.20,103.83 L923.70,103.02 L924.20,102.32 L924.70,101.73 L925.20,101.25 L925.70,100.89 L926.20,100.65 L926.70,100.52 L927.00,100.50 L927.50,100.57 L928.00,100.76 L928.50,101.09 L929.00,101.55 L929.50,102.14 L930.00,102.86 L930.50,103.71 L931.00,104.68 L931.50,105.78 L932.00,107.00 L932.50,108.34 L933.00,109.79 L933.50,111.36 L934.00,113.05 L934.50,114.84 L935.00,116.73 L935.50,118.73 L936.00,120.83 L936.50,123.02 L937.00,125.30 L937.50,127.67 L938.00,130.12 L938.50,132.64 L939.00,135.24 L939.50,137.91 L940.00,140.64 L940.50,143.43 L941.00,146.26 L941.50,149.15 L942.00,152.08 L942.50,155.04 L943.00,158.04 L943.50,161.06 L944.00,164.10 L944.50,167.15 L945.00,170.22 L945.50,173.28 L946.00,176.35 L946.50,179.40 L947.00,182.44 L947.50,185.46 L948.00,188.46 L948.50,191.42 L949.00,194.35 L949.50,197.24 L950.00,200.07 L950.50,202.86 L951.00,205.59 L951.50,208.26 L952.00,210.86 L952.50,213.38 L953.00,215.83 L953.50,218.20 L954.00,220.48 L954.50,222.67 L955.00,224.77 L955.50,226.77 L956.00,228.66 L956.50,230.45 L957.00,232.14 L957.50,233.71 L958.00,235.16 L958.50,236.50 L959.00,237.72 L959.50,238.82" stroke="#0000aa" stroke-width="2.5" stroke-linecap="round" stroke-dasharray="5.8 4.8 0.5 5.1"/>
<path d="M141.30,176.40 L141.80,181.88 L142.30,187.35 L142.80,192.80 L143.30,198.21 L143.80,203.57 L144.30,208.87 L144.80,214.10 L145.30,219.24 L145.80,224.29 L146.30,229.24 L146.80,234.07 L147.30,238.77 L147.80,243.33 L148.30,247.74 L148.80,252.00 L149.30,256.09 L149.80,260.00 L150.30,263.73 L150.80,267.27 L151.30,270.60 L151.80,273.73 L152.30,276.64 L152.80,279.33 L153.30,281.79 L153.80,284.02 L154.30,286.01 L154.80,287.76 L155.30,289.26 L155.80,290.51 L156.30,291.51 L156.80,292.26 L157.30,292.75 L157.80,292.98 L158.00,293.00 L158.50,292.89 L159.00,292.58 L159.50,292.05 L160.00,291.32 L160.50,290.38 L161.00,289.23 L161.50,287.87 L162.00,286.32 L162.50,284.56 L163.00,282.61 L163.50,280.47 L164.00,278.14 L164.50,275.62 L165.00,272.93 L165.50,270.05 L166.00,267.01 L166.50,263.80 L167.00,260.43 L167.50,256.90 L168.00,253.23 L168.50,249.42 L169.00,245.47 L169.50,241.39 L170.00,237.20 L170.50,232.88 L171.00,228.46 L171.50,223.95 L172.00,219.34 L172.50,214.65 L173.00,209.88 L173.50,205.05 L174.00,200.16 L174.50,195.22 L175.00,190.24 L175.50,185.23 L176.00,180.19 L176.50,175.14 L177.00,170.08 L177.50,165.03 L178.00,159.98 L178.50,154.96 L179.00,149.97 L179.50,145.01 L180.00,140.10 L180.50,135.24 L181.00,130.45 L181.50,125.73 L182.00,121.08 L182.50,116.53 L183.00,112.07 L183.50,107.72 L184.00,103.47 L184.50,99.35 L185.00,95.34 L185.50,91.48 L186.00,87.75 L186.50,84.16 L187.00,80.73 L187.50,77.46 L188.00,74.35 L188.50,71.40 L189.00,68.64 L189.50,66.05 L190.00,63.64 L190.50,61.42 L191.00,59.39 L191.50,57.56 L192.00,55.92 L192.50,54.49 L193.00,53.26 L193.50,52.23 L194.00,51.42 L194.50,50.81 L195.00,50.41 L195.50,50.22 L195.70,50.20 L196.20,50.31 L196.70,50.63 L197.20,51.16 L197.70,51.91 L198.20,52.87 L198.70,54.04 L199.20,55.41 L199.70,56.99 L200.20,58.78 L200.70,60.76 L201.20,62.94 L201.70,65.31 L202.20,67.86 L202.70,70.60 L203.20,73.52 L203.70,76.61 L204.20,79.87 L204.70,83.29 L205.20,86.86 L205.70,90.59 L206.20,94.46 L206.70,98.46 L207.20,102.59 L207.70,106.85 L208.20,111.21 L208.70,115.69 L209.20,120.26 L209.70,124.92 L210.20,129.66 L210.70,134.48 L211.20,139.36 L211.70,144.30 L212.20,149.29 L212.70,154.31 L213.20,159.36 L213.70,164.44 L214.20,169.52 L214.70,174.61 L215.20,179.69 L215.70,184.76 L216.20,189.80 L216.70,194.81 L217.20,199.78 L217.70,204.70 L218.20,209.55 L218.70,214.34 L219.20,219.05 L219.70,223.68 L220.20,228.21 L220.70,232.65 L221.20,236.97 L221.70,241.18 L222.20,245.26 L222.70,249.21 L223.20,253.02 L223.70,256.68 L224.20,260.20 L224.70,263.55 L225.20,266.75 L225.70,269.77 L226.20,272.62 L226.70,275.28 L227.20,277.76 L227.70,280.06 L228.20,282.16 L228.70,284.06 L229.20,285.76 L229.70,287.26 L230.20,288.55 L230.70,289.64 L231.20,290.51 L231.70,291.18 L232.20,291.63 L232.70,291.86 L233.00,291.90 L233.50,291.79 L234.00,291.46 L234.50,290.91 L235.00,290.14 L235.50,289.15 L236.00,287.95 L236.50,286.53 L237.00,284.91 L237.50,283.07 L238.00,281.04 L238.50,278.80 L239.00,276.36 L239.50,273.73 L240.00,270.92 L240.50,267.92 L241.00,264.75 L241.50,261.40 L242.00,257.90 L242.50,254.23 L243.00,250.41 L243.50,246.45 L244.00,242.35 L244.50,238.12 L245.00,233.77 L245.50,229.31 L246.00,224.74 L246.50,220.07 L247.00,215.32 L247.50,210.49 L248.00,205.58 L248.50,200.62 L249.00,195.60 L249.50,190.54 L250.00,185.44 L250.50,180.32 L251.00,175.18 L251.50,170.04 L252.00,164.91 L252.50,159.78 L253.00,154.68 L253.50,149.61 L254.00,144.58 L254.50,139.61 L255.00,134.69 L255.50,129.84 L256.00,125.07 L256.50,120.39 L257.00,115.80 L257.50,111.31 L258.00,106.94 L258.50,102.69 L259.00,98.56 L259.50,94.57 L260.00,90.72 L260.50,87.03 L261.00,83.49 L261.50,80.11 L262.00,76.90 L262.50,73.87 L263.00,71.02 L263.50,68.35 L264.00,65.88 L264.50,63.60 L265.00,61.52 L265.50,59.64 L266.00,57.97 L266.50,56.52 L267.00,55.27 L267.50,54.24 L268.00,53.43 L268.50,52.83 L269.00,52.46 L269.50,52.30 L269.60,52.30 L270.10,52.42 L270.60,52.77 L271.10,53.36 L271.60,54.18 L272.10,55.23 L272.60,56.51 L273.10,58.01 L273.60,59.75 L274.10,61.70 L274.60,63.86 L275.10,66.24 L275.60,68.83 L276.10,71.61 L276.60,74.60 L277.10,77.77 L277.60,81.13 L278.10,84.66 L278.60,88.36 L279.10,92.23 L279.60,96.25 L280.10,100.41 L280.60,104.72 L281.10,109.15 L281.60,113.70 L282.10,118.36 L282.60,123.13 L283.10,127.98 L283.60,132.92 L284.10,137.93 L284.60,143.00 L285.10,148.13 L285.60,153.29 L286.10,158.48 L286.60,163.70 L287.10,168.92 L287.60,174.15 L288.10,179.36 L288.60,184.55 L289.10,189.70 L289.60,194.82 L290.10,199.88 L290.60,204.87 L291.10,209.80 L291.60,214.63 L292.10,219.38 L292.60,224.02 L293.10,228.55 L293.60,232.96 L294.10,237.23 L294.60,241.37 L295.10,245.36 L295.60,249.19 L296.10,252.86 L296.60,256.36 L297.10,259.68 L297.60,262.82 L298.10,265.76 L298.60,268.51 L299.10,271.05 L299.60,273.39 L300.10,275.51 L300.60,277.42 L301.10,279.10 L301.60,280.57 L302.10,281.80 L302.60,282.81 L303.10,283.58 L303.60,284.12 L304.10,284.42 L304.50,284.50 L305.00,284.40 L305.50,284.09 L306.00,283.58 L306.50,282.86 L307.00,281.94 L307.50,280.82 L308.00,279.50 L308.50,277.98 L309.00,276.27 L309.50,274.37 L310.00,272.29 L310.50,270.02 L311.00,267.57 L311.50,264.95 L312.00,262.15 L312.50,259.20 L313.00,256.08 L313.50,252.81 L314.00,249.40 L314.50,245.84 L315.00,242.15 L315.50,238.34 L316.00,234.40 L316.50,230.35 L317.00,226.19 L317.50,221.94 L318.00,217.60 L318.50,213.17 L319.00,208.67 L319.50,204.11 L320.00,199.49 L320.50,194.82 L321.00,190.11 L321.50,185.37 L322.00,180.61 L322.50,175.84 L323.00,171.06 L323.50,166.29 L324.00,161.53 L324.50,156.79 L325.00,152.08 L325.50,147.41 L326.00,142.79 L326.50,138.23 L327.00,133.73 L327.50,129.30 L328.00,124.96 L328.50,120.71 L329.00,116.55 L329.50,112.50 L330.00,108.56 L330.50,104.75 L331.00,101.06 L331.50,97.50 L332.00,94.09 L332.50,90.82 L333.00,87.70 L333.50,84.75 L334.00,81.95 L334.50,79.33 L335.00,76.88 L335.50,74.61 L336.00,72.53 L336.50,70.63 L337.00,68.92 L337.50,67.40 L338.00,66.08 L338.50,64.96 L339.00,64.04 L339.50,63.32 L340.00,62.81 L340.50,62.50 L341.00,62.40 L341.50,62.49 L342.00,62.76 L342.50,63.22 L343.00,63.85 L343.50,64.66 L344.00,65.65 L344.50,66.82 L345.00,68.16 L345.50,69.67 L346.00,71.35 L346.50,73.20 L347.00,75.21 L347.50,77.38 L348.00,79.71 L348.50,82.19 L349.00,84.81 L349.50,87.58 L350.00,90.49 L350.50,93.53 L351.00,96.70 L351.50,100.00 L352.00,103.41 L352.50,106.93 L353.00,110.56 L353.50,114.29 L354.00,118.11 L354.50,122.01 L355.00,126.00 L355.50,130.06 L356.00,134.18 L356.50,138.37 L357.00,142.60 L357.50,146.89 L358.00,151.20 L358.50,155.55 L359.00,159.92 L359.50,164.31 L360.00,168.70 L360.50,173.09 L361.00,177.48 L361.50,181.85 L362.00,186.20 L362.50,190.51 L363.00,194.80 L363.50,199.03 L364.00,203.22 L364.50,207.34 L365.00,211.40 L365.50,215.39 L366.00,219.29 L366.50,223.11 L367.00,226.84 L367.50,230.47 L368.00,233.99 L368.50,237.40 L369.00,240.70 L369.50,243.87 L370.00,246.91 L370.50,249.82 L371.00,252.59 L371.50,255.21 L372.00,257.69 L372.50,260.02 L373.00,262.19 L373.50,264.20 L374.00,266.05 L374.50,267.73 L375.00,269.24 L375.50,270.58 L376.00,271.75 L376.50,272.74 L377.00,273.55 L377.50,274.18 L378.00,274.64 L378.50,274.91 L379.00,275.00 L379.50,274.91 L380.00,274.63 L380.50,274.16 L381.00,273.51 L381.50,272.67 L382.00,271.65 L382.50,270.45 L383.00,269.07 L383.50,267.51 L384.00,265.79 L384.50,263.89 L385.00,261.82 L385.50,259.59 L386.00,257.20 L386.50,254.65 L387.00,251.96 L387.50,249.12 L388.00,246.14 L388.50,243.02 L389.00,239.78 L389.50,236.41 L390.00,232.92 L390.50,229.33 L391.00,225.62 L391.50,221.82 L392.00,217.93 L392.50,213.96 L393.00,209.90 L393.50,205.78 L394.00,201.60 L394.50,197.36 L395.00,193.07 L395.50,188.74 L396.00,184.38 L396.50,180.00 L397.00,175.61 L397.50,171.20 L398.00,166.79 L398.50,162.40 L399.00,158.02 L399.50,153.66 L400.00,149.33 L400.50,145.04 L401.00,140.80 L401.50,136.62 L402.00,132.50 L402.50,128.44 L403.00,124.47 L403.50,120.58 L404.00,116.78 L404.50,113.07 L405.00,109.48 L405.50,105.99 L406.00,102.62 L406.50,99.38 L407.00,96.26 L407.50,93.28 L408.00,90.44 L408.50,87.75 L409.00,85.20 L409.50,82.81 L410.00,80.58 L410.50,78.51 L411.00,76.61 L411.50,74.89 L412.00,73.33 L412.50,71.95 L413.00,70.75 L413.50,69.73 L414.00,68.89 L414.50,68.24 L415.00,67.77 L415.50,67.49 L416.00,67.40 L416.50,67.49 L417.00,67.74 L417.50,68.17 L418.00,68.77 L418.50,69.54 L419.00,70.48 L419.50,71.59 L420.00,72.86 L420.50,74.29 L421.00,75.88 L421.50,77.63 L422.00,79.53 L422.50,81.59 L423.00,83.79 L423.50,86.13 L424.00,88.62 L424.50,91.24 L425.00,93.99 L425.50,96.86 L426.00,99.86 L426.50,102.97 L427.00,106.19 L427.50,109.52 L428.00,112.95 L428.50,116.46 L429.00,120.07 L429.50,123.75 L430.00,127.51 L430.50,131.33 L431.00,135.22 L431.50,139.16 L432.00,143.14 L432.50,147.17 L433.00,151.23 L433.50,155.31 L434.00,159.41 L434.50,163.53 L435.00,167.65 L435.50,171.76 L436.00,175.87 L436.50,179.96 L437.00,184.02 L437.50,188.06 L438.00,192.05 L438.50,196.00 L439.00,199.90 L439.50,203.73 L440.00,207.50 L440.50,211.20 L441.00,214.82 L441.50,218.36 L442.00,221.80 L442.50,225.15 L443.00,228.39 L443.50,231.53 L444.00,234.55 L444.50,237.45 L445.00,240.22 L445.50,242.87 L446.00,245.38 L446.50,247.75 L447.00,249.98 L447.50,252.07 L448.00,254.00 L448.50,255.78 L449.00,257.41 L449.50,258.87 L450.00,260.17 L450.50,261.31 L451.00,262.28 L451.50,263.09 L452.00,263.72 L452.50,264.18 L453.00,264.48 L453.50,264.60 L453.60,264.60 L454.10,264.50 L454.60,264.20 L455.10,263.70 L455.60,263.01 L456.10,262.12 L456.60,261.04 L457.10,259.76 L457.60,258.30 L458.10,256.64 L458.60,254.81 L459.10,252.80 L459.60,250.61 L460.10,248.25 L460.60,245.73 L461.10,243.05 L461.60,240.21 L462.10,237.23 L462.60,234.10 L463.10,230.84 L463.60,227.45 L464.10,223.93 L464.60,220.31 L465.10,216.57 L465.60,212.74 L466.10,208.82 L466.60,204.81 L467.10,200.73 L467.60,196.58 L468.10,192.37 L468.60,188.12 L469.10,183.82 L469.60,179.50 L470.10,175.15 L470.60,170.80 L471.10,166.43 L471.60,162.08 L472.10,157.73 L472.60,153.41 L473.10,149.13 L473.60,144.88 L474.10,140.69 L474.60,136.55 L475.10,132.48 L475.60,128.49 L476.10,124.59 L476.60,120.77 L477.10,117.06 L477.60,113.45 L478.10,109.96 L478.60,106.60 L479.10,103.36 L479.60,100.26 L480.10,97.31 L480.60,94.50 L481.10,91.85 L481.60,89.36 L482.10,87.04 L482.60,84.89 L483.10,82.91 L483.60,81.11 L484.10,79.50 L484.60,78.07 L485.10,76.83 L485.60,75.79 L486.10,74.93 L486.60,74.28 L487.10,73.82 L487.60,73.56 L488.00,73.50 L488.50,73.57 L489.00,73.80 L489.50,74.16 L490.00,74.68 L490.50,75.34 L491.00,76.15 L491.50,77.10 L492.00,78.19 L492.50,79.42 L493.00,80.80 L493.50,82.30 L494.00,83.95 L494.50,85.72 L495.00,87.62 L495.50,89.65 L496.00,91.80 L496.50,94.06 L497.00,96.45 L497.50,98.94 L498.00,101.55 L498.50,104.25 L499.00,107.06 L499.50,109.96 L500.00,112.95 L500.50,116.02 L501.00,119.18 L501.50,122.41 L502.00,125.72 L502.50,129.08 L503.00,132.51 L503.50,135.99 L504.00,139.52 L504.50,143.10 L505.00,146.71 L505.50,150.36 L506.00,154.03 L506.50,157.72 L507.00,161.43 L507.50,165.14 L508.00,168.86 L508.50,172.57 L509.00,176.28 L509.50,179.97 L510.00,183.64 L510.50,187.29 L511.00,190.90 L511.50,194.48 L512.00,198.01 L512.50,201.49 L513.00,204.92 L513.50,208.28 L514.00,211.59 L514.50,214.82 L515.00,217.98 L515.50,221.05 L516.00,224.04 L516.50,226.94 L517.00,229.75 L517.50,232.45 L518.00,235.06 L518.50,237.55 L519.00,239.94 L519.50,242.20 L520.00,244.35 L520.50,246.38 L521.00,248.28 L521.50,250.05 L522.00,251.70 L522.50,253.20 L523.00,254.58 L523.50,255.81 L524.00,256.90 L524.50,257.85 L525.00,258.66 L525.50,259.32 L526.00,259.84 L526.50,260.20 L527.00,260.43 L527.50,260.50 L528.00,260.42 L528.50,260.18 L529.00,259.79 L529.50,259.23 L530.00,258.52 L530.50,257.66 L531.00,256.64 L531.50,255.47 L532.00,254.15 L532.50,252.68 L533.00,251.07 L533.50,249.32 L534.00,247.43 L534.50,245.40 L535.00,243.24 L535.50,240.95 L536.00,238.54 L536.50,236.01 L537.00,233.36 L537.50,230.60 L538.00,227.74 L538.50,224.78 L539.00,221.72 L539.50,218.57 L540.00,215.34 L540.50,212.03 L541.00,208.64 L541.50,205.19 L542.00,201.68 L542.50,198.12 L543.00,194.50 L543.50,190.85 L544.00,187.16 L544.50,183.44 L545.00,179.70 L545.50,175.94 L546.00,172.18 L546.50,168.41 L547.00,164.65 L547.50,160.90 L548.00,157.17 L548.50,153.46 L549.00,149.78 L549.50,146.14 L550.00,142.55 L550.50,139.01 L551.00,135.52 L551.50,132.09 L552.00,128.74 L552.50,125.46 L553.00,122.26 L553.50,119.15 L554.00,116.12 L554.50,113.20 L555.00,110.38 L555.50,107.67 L556.00,105.07 L556.50,102.58 L557.00,100.22 L557.50,97.98 L558.00,95.87 L558.50,93.90 L559.00,92.06 L559.50,90.37 L560.00,88.81 L560.50,87.40 L561.00,86.14 L561.50,85.03 L562.00,84.08 L562.50,83.27 L563.00,82.63 L563.50,82.14 L564.00,81.80 L564.50,81.63 L564.80,81.60 L565.30,81.70 L565.80,81.98 L566.30,82.46 L566.80,83.14 L567.30,84.00 L567.80,85.04 L568.30,86.27 L568.80,87.69 L569.30,89.28 L569.80,91.05 L570.30,92.99 L570.80,95.10 L571.30,97.37 L571.80,99.80 L572.30,102.38 L572.80,105.10 L573.30,107.97 L573.80,110.97 L574.30,114.10 L574.80,117.35 L575.30,120.71 L575.80,124.18 L576.30,127.75 L576.80,131.41 L577.30,135.15 L577.80,138.96 L578.30,142.84 L578.80,146.78 L579.30,150.76 L579.80,154.79 L580.30,158.85 L580.80,162.92 L581.30,167.01 L581.80,171.11 L582.30,175.19 L582.80,179.27 L583.30,183.32 L583.80,187.34 L584.30,191.31 L584.80,195.24 L585.30,199.11 L585.80,202.91 L586.30,206.63 L586.80,210.27 L587.30,213.82 L587.80,217.27 L588.30,220.61 L588.80,223.83 L589.30,226.94 L589.80,229.91 L590.30,232.75 L590.80,235.45 L591.30,238.00 L591.80,240.40 L592.30,242.64 L592.80,244.71 L593.30,246.62 L593.80,248.35 L594.30,249.91 L594.80,251.29 L595.30,252.48 L595.80,253.49 L596.30,254.31 L596.80,254.95 L597.30,255.39 L597.80,255.64 L598.20,255.70 L598.70,255.63 L599.20,255.42 L599.70,255.07 L600.20,254.59 L600.70,253.96 L601.20,253.20 L601.70,252.30 L602.20,251.27 L602.70,250.11 L603.20,248.82 L603.70,247.40 L604.20,245.85 L604.70,244.19 L605.20,242.40 L605.70,240.50 L606.20,238.48 L606.70,236.35 L607.20,234.12 L607.70,231.78 L608.20,229.35 L608.70,226.82 L609.20,224.20 L609.70,221.50 L610.20,218.71 L610.70,215.86 L611.20,212.93 L611.70,209.93 L612.20,206.87 L612.70,203.76 L613.20,200.60 L613.70,197.39 L614.20,194.15 L614.70,190.87 L615.20,187.56 L615.70,184.24 L616.20,180.89 L616.70,177.54 L617.20,174.18 L617.70,170.82 L618.20,167.47 L618.70,164.13 L619.20,160.81 L619.70,157.51 L620.20,154.25 L620.70,151.02 L621.20,147.83 L621.70,144.69 L622.20,141.60 L622.70,138.56 L623.20,135.59 L623.70,132.69 L624.20,129.86 L624.70,127.11 L625.20,124.44 L625.70,121.86 L626.20,119.37 L626.70,116.97 L627.20,114.68 L627.70,112.49 L628.20,110.40 L628.70,108.43 L629.20,106.57 L629.70,104.83 L630.20,103.21 L630.70,101.72 L631.20,100.35 L631.70,99.11 L632.20,98.00 L632.70,97.02 L633.20,96.18 L633.70,95.47 L634.20,94.90 L634.70,94.47 L635.20,94.18 L635.70,94.03 L636.00,94.00 L636.50,94.07 L637.00,94.28 L637.50,94.63 L638.00,95.11 L638.50,95.73 L639.00,96.49 L639.50,97.39 L640.00,98.42 L640.50,99.57 L641.00,100.86 L641.50,102.28 L642.00,103.82 L642.50,105.48 L643.00,107.26 L643.50,109.15 L644.00,111.16 L644.50,113.27 L645.00,115.49 L645.50,117.81 L646.00,120.23 L646.50,122.74 L647.00,125.33 L647.50,128.01 L648.00,130.77 L648.50,133.60 L649.00,136.50 L649.50,139.46 L650.00,142.48 L650.50,145.55 L651.00,148.66 L651.50,151.82 L652.00,155.01 L652.50,158.24 L653.00,161.48 L653.50,164.74 L654.00,168.02 L654.50,171.30 L655.00,174.58 L655.50,177.86 L656.00,181.12 L656.50,184.36 L657.00,187.59 L657.50,190.78 L658.00,193.94 L658.50,197.05 L659.00,200.12 L659.50,203.14 L660.00,206.10 L660.50,209.00 L661.00,211.83 L661.50,214.59 L662.00,217.27 L662.50,219.86 L663.00,222.37 L663.50,224.79 L664.00,227.11 L664.50,229.33 L665.00,231.44 L665.50,233.45 L666.00,235.34 L666.50,237.12 L667.00,238.78 L667.50,240.32 L668.00,241.74 L668.50,243.03 L669.00,244.18 L669.50,245.21 L670.00,246.11 L670.50,246.87 L671.00,247.49 L671.50,247.97 L672.00,248.32 L672.50,248.53 L673.00,248.60 L673.50,248.52 L674.00,248.27 L674.50,247.86 L675.00,247.28 L675.50,246.54 L676.00,245.64 L676.50,244.58 L677.00,243.36 L677.50,241.99 L678.00,240.47 L678.50,238.80 L679.00,236.99 L679.50,235.04 L680.00,232.95 L680.50,230.73 L681.00,228.38 L681.50,225.92 L682.00,223.33 L682.50,220.64 L683.00,217.85 L683.50,214.95 L684.00,211.96 L684.50,208.89 L685.00,205.74 L685.50,202.52 L686.00,199.24 L686.50,195.90 L687.00,192.50 L687.50,189.07 L688.00,185.60 L688.50,182.11 L689.00,178.59 L689.50,175.07 L690.00,171.53 L690.50,168.01 L691.00,164.49 L691.50,161.00 L692.00,157.53 L692.50,154.10 L693.00,150.70 L693.50,147.36 L694.00,144.08 L694.50,140.86 L695.00,137.71 L695.50,134.64 L696.00,131.65 L696.50,128.75 L697.00,125.96 L697.50,123.27 L698.00,120.68 L698.50,118.22 L699.00,115.87 L699.50,113.65 L700.00,111.56 L700.50,109.61 L701.00,107.80 L701.50,106.13 L702.00,104.61 L702.50,103.24 L703.00,102.02 L703.50,100.96 L704.00,100.06 L704.50,99.32 L705.00,98.74 L705.50,98.33 L706.00,98.08 L706.50,98.00 L707.00,98.06 L707.50,98.24 L708.00,98.55 L708.50,98.98 L709.00,99.52 L709.50,100.19 L710.00,100.97 L710.50,101.87 L711.00,102.89 L711.50,104.02 L712.00,105.27 L712.50,106.62 L713.00,108.08 L713.50,109.64 L714.00,111.31 L714.50,113.08 L715.00,114.94 L715.50,116.90 L716.00,118.94 L716.50,121.07 L717.00,123.29 L717.50,125.58 L718.00,127.95 L718.50,130.39 L719.00,132.90 L719.50,135.47 L720.00,138.10 L720.50,140.78 L721.00,143.51 L721.50,146.28 L722.00,149.10 L722.50,151.95 L723.00,154.83 L723.50,157.73 L724.00,160.66 L724.50,163.60 L725.00,166.55 L725.50,169.50 L726.00,172.45 L726.50,175.40 L727.00,178.34 L727.50,181.27 L728.00,184.17 L728.50,187.05 L729.00,189.90 L729.50,192.72 L730.00,195.49 L730.50,198.22 L731.00,200.90 L731.50,203.53 L732.00,206.10 L732.50,208.61 L733.00,211.05 L733.50,213.42 L734.00,215.71 L734.50,217.93 L735.00,220.06 L735.50,222.10 L736.00,224.06 L736.50,225.92 L737.00,227.69 L737.50,229.36 L738.00,230.92 L738.50,232.38 L739.00,233.73 L739.50,234.98 L740.00,236.11 L740.50,237.13 L741.00,238.03 L741.50,238.81 L742.00,239.48 L742.50,240.02 L743.00,240.45 L743.50,240.76 L744.00,240.94 L744.50,241.00 L745.00,240.92 L745.50,240.69 L746.00,240.31 L746.50,239.77 L747.00,239.09 L747.50,238.25 L748.00,237.26 L748.50,236.14 L749.00,234.86 L749.50,233.45 L750.00,231.90 L750.50,230.22 L751.00,228.41 L751.50,226.48 L752.00,224.42 L752.50,222.25 L753.00,219.97 L753.50,217.58 L754.00,215.09 L754.50,212.51 L755.00,209.84 L755.50,207.09 L756.00,204.27 L756.50,201.37 L757.00,198.41 L757.50,195.40 L758.00,192.34 L758.50,189.23 L759.00,186.09 L759.50,182.93 L760.00,179.74 L760.50,176.54 L761.00,173.34 L761.50,170.14 L762.00,166.95 L762.50,163.77 L763.00,160.62 L763.50,157.50 L764.00,154.42 L764.50,151.39 L765.00,148.41 L765.50,145.48 L766.00,142.63 L766.50,139.85 L767.00,137.14 L767.50,134.53 L768.00,132.00 L768.50,129.57 L769.00,127.25 L769.50,125.03 L770.00,122.93 L770.50,120.95 L771.00,119.09 L771.50,117.35 L772.00,115.75 L772.50,114.29 L773.00,112.96 L773.50,111.77 L774.00,110.73 L774.50,109.83 L775.00,109.08 L775.50,108.49 L776.00,108.04 L776.50,107.75 L777.00,107.61 L777.20,107.60 L777.70,107.65 L778.20,107.81 L778.70,108.08 L779.20,108.45 L779.70,108.93 L780.20,109.51 L780.70,110.20 L781.20,110.99 L781.70,111.88 L782.20,112.87 L782.70,113.96 L783.20,115.14 L783.70,116.42 L784.20,117.80 L784.70,119.26 L785.20,120.81 L785.70,122.44 L786.20,124.16 L786.70,125.96 L787.20,127.83 L787.70,129.78 L788.20,131.80 L788.70,133.88 L789.20,136.03 L789.70,138.24 L790.20,140.51 L790.70,142.82 L791.20,145.19 L791.70,147.61 L792.20,150.06 L792.70,152.55 L793.20,155.08 L793.70,157.63 L794.20,160.21 L794.70,162.81 L795.20,165.42 L795.70,168.05 L796.20,170.69 L796.70,173.33 L797.20,175.97 L797.70,178.60 L798.20,181.22 L798.70,183.83 L799.20,186.42 L799.70,188.99 L800.20,191.54 L800.70,194.05 L801.20,196.53 L801.70,198.97 L802.20,201.36 L802.70,203.71 L803.20,206.01 L803.70,208.25 L804.20,210.44 L804.70,212.56 L805.20,214.62 L805.70,216.61 L806.20,218.53 L806.70,220.37 L807.20,222.14 L807.70,223.82 L808.20,225.42 L808.70,226.94 L809.20,228.36 L809.70,229.70 L810.20,230.94 L810.70,232.09 L811.20,233.14 L811.70,234.09 L812.20,234.94 L812.70,235.69 L813.20,236.33 L813.70,236.87 L814.20,237.31 L814.70,237.64 L815.20,237.86 L815.70,237.98 L816.00,238.00 L816.50,237.93 L817.00,237.73 L817.50,237.40 L818.00,236.94 L818.50,236.35 L819.00,235.62 L819.50,234.77 L820.00,233.80 L820.50,232.70 L821.00,231.48 L821.50,230.14 L822.00,228.69 L822.50,227.12 L823.00,225.45 L823.50,223.67 L824.00,221.80 L824.50,219.82 L825.00,217.76 L825.50,215.61 L826.00,213.37 L826.50,211.06 L827.00,208.68 L827.50,206.22 L828.00,203.71 L828.50,201.15 L829.00,198.53 L829.50,195.87 L830.00,193.18 L830.50,190.45 L831.00,187.70 L831.50,184.93 L832.00,182.14 L832.50,179.35 L833.00,176.56 L833.50,173.77 L834.00,171.00 L834.50,168.25 L835.00,165.52 L835.50,162.83 L836.00,160.17 L836.50,157.55 L837.00,154.99 L837.50,152.48 L838.00,150.03 L838.50,147.64 L839.00,145.33 L839.50,143.09 L840.00,140.94 L840.50,138.88 L841.00,136.90 L841.50,135.03 L842.00,133.25 L842.50,131.58 L843.00,130.01 L843.50,128.56 L844.00,127.22 L844.50,126.00 L845.00,124.90 L845.50,123.93 L846.00,123.08 L846.50,122.35 L847.00,121.76 L847.50,121.30 L848.00,120.97 L848.50,120.77 L849.00,120.70 L849.50,120.76 L850.00,120.93 L850.50,121.21 L851.00,121.61 L851.50,122.12 L852.00,122.75 L852.50,123.48 L853.00,124.32 L853.50,125.27 L854.00,126.33 L854.50,127.49 L855.00,128.75 L855.50,130.10 L856.00,131.56 L856.50,133.11 L857.00,134.75 L857.50,136.47 L858.00,138.28 L858.50,140.17 L859.00,142.14 L859.50,144.18 L860.00,146.29 L860.50,148.47 L861.00,150.70 L861.50,152.99 L862.00,155.34 L862.50,157.73 L863.00,160.17 L863.50,162.64 L864.00,165.15 L864.50,167.68 L865.00,170.24 L865.50,172.82 L866.00,175.41 L866.50,178.02 L867.00,180.62 L867.50,183.23 L868.00,185.82 L868.50,188.41 L869.00,190.98 L869.50,193.54 L870.00,196.06 L870.50,198.55 L871.00,201.01 L871.50,203.43 L872.00,205.81 L872.50,208.13 L873.00,210.40 L873.50,212.61 L874.00,214.76 L874.50,216.84 L875.00,218.86 L875.50,220.79 L876.00,222.65 L876.50,224.43 L877.00,226.12 L877.50,227.72 L878.00,229.23 L878.50,230.65 L879.00,231.97 L879.50,233.19 L880.00,234.31 L880.50,235.32 L881.00,236.23 L881.50,237.03 L882.00,237.72 L882.50,238.29 L883.00,238.76 L883.50,239.11 L884.00,239.35 L884.50,239.48 L884.80,239.50 L885.30,239.45 L885.80,239.30 L886.30,239.04 L886.80,238.68 L887.30,238.22 L887.80,237.66 L888.30,237.01 L888.80,236.25 L889.30,235.40 L889.80,234.45 L890.30,233.41 L890.80,232.27 L891.30,231.05 L891.80,229.74 L892.30,228.35 L892.80,226.87 L893.30,225.31 L893.80,223.68 L894.30,221.97 L894.80,220.19 L895.30,218.34 L895.80,216.42 L896.30,214.45 L896.80,212.42 L897.30,210.33 L897.80,208.19 L898.30,206.01 L898.80,203.78 L899.30,201.51 L899.80,199.21 L900.30,196.88 L900.80,194.52 L901.30,192.14 L901.80,189.75 L902.30,187.33 L902.80,184.91 L903.30,182.49 L903.80,180.06 L904.30,177.63 L904.80,175.22 L905.30,172.81 L905.80,170.43 L906.30,168.06 L906.80,165.72 L907.30,163.40 L907.80,161.12 L908.30,158.88 L908.80,156.68 L909.30,154.52 L909.80,152.41 L910.30,150.36 L910.80,148.36 L911.30,146.42 L911.80,144.55 L912.30,142.74 L912.80,141.00 L913.30,139.33 L913.80,137.75 L914.30,136.23 L914.80,134.81 L915.30,133.46 L915.80,132.20 L916.30,131.03 L916.80,129.96 L917.30,128.97 L917.80,128.08 L918.30,127.28 L918.80,126.59 L919.30,125.99 L919.80,125.49 L920.30,125.09 L920.80,124.80 L921.30,124.60 L921.80,124.51 L922.00,124.50 L922.50,124.56 L923.00,124.74 L923.50,125.05 L924.00,125.47 L924.50,126.02 L925.00,126.68 L925.50,127.46 L926.00,128.35 L926.50,129.36 L927.00,130.48 L927.50,131.70 L928.00,133.03 L928.50,134.47 L929.00,136.00 L929.50,137.63 L930.00,139.35 L930.50,141.16 L931.00,143.05 L931.50,145.02 L932.00,147.07 L932.50,149.19 L933.00,151.38 L933.50,153.62 L934.00,155.92 L934.50,158.27 L935.00,160.67 L935.50,163.11 L936.00,165.58 L936.50,168.08 L937.00,170.60 L937.50,173.14 L938.00,175.69 L938.50,178.25 L939.00,180.81 L939.50,183.36 L940.00,185.90 L940.50,188.42 L941.00,190.92 L941.50,193.39 L942.00,195.83 L942.50,198.23 L943.00,200.58 L943.50,202.88 L944.00,205.12 L944.50,207.31 L945.00,209.43 L945.50,211.48 L946.00,213.45 L946.50,215.34 L947.00,217.15 L947.50,218.87 L948.00,220.50 L948.50,222.03 L949.00,223.47 L949.50,224.80 L950.00,226.02 L950.50,227.14 L951.00,228.15 L951.50,229.04 L952.00,229.82 L952.50,230.48 L953.00,231.03 L953.50,231.45 L954.00,231.76 L954.50,231.94 L955.00,232.00 L955.50,231.95 L956.00,231.79 L956.50,231.54 L957.00,231.18 L957.50,230.72 L958.00,230.16 L958.50,229.50 L959.00,228.75 L959.50,227.90" stroke="#656500" stroke-width="3.0" stroke-linecap="round" stroke-dasharray="0.01 5.55"/>
</g>
<line x1="159.6" y1="176.8" x2="946.5" y2="176.8" stroke="#000" stroke-width="1.4" stroke-dasharray="4.4 4.6"/>
<path d="M141.3,326.37h6 M959.5,326.37h-6 M141.3,312.73h6 M959.5,312.73h-6 M141.3,299.10h6 M959.5,299.10h-6 M141.3,285.47h12 M959.5,285.47h-12 M141.3,271.83h6 M959.5,271.83h-6 M141.3,258.20h6 M959.5,258.20h-6 M141.3,244.57h6 M959.5,244.57h-6 M141.3,230.93h12 M959.5,230.93h-12 M141.3,217.30h6 M959.5,217.30h-6 M141.3,203.67h6 M959.5,203.67h-6 M141.3,190.03h6 M959.5,190.03h-6 M141.3,176.40h12 M959.5,176.40h-12 M141.3,162.77h6 M959.5,162.77h-6 M141.3,149.13h6 M959.5,149.13h-6 M141.3,135.50h6 M959.5,135.50h-6 M141.3,121.87h12 M959.5,121.87h-12 M141.3,108.23h6 M959.5,108.23h-6 M141.3,94.60h6 M959.5,94.60h-6 M141.3,80.97h6 M959.5,80.97h-6 M141.3,67.33h12 M959.5,67.33h-12 M141.3,53.70h6 M959.5,53.70h-6 M141.3,40.07h6 M959.5,40.07h-6 M141.3,26.43h6 M959.5,26.43h-6 M182.21,340.0v-6.2 M182.21,12.8v6.2 M223.12,340.0v-6.2 M223.12,12.8v6.2 M264.03,340.0v-6.2 M264.03,12.8v6.2 M304.94,340.0v-12 M304.94,12.8v12 M345.85,340.0v-6.2 M345.85,12.8v6.2 M386.76,340.0v-6.2 M386.76,12.8v6.2 M427.67,340.0v-6.2 M427.67,12.8v6.2 M468.58,340.0v-12 M468.58,12.8v12 M509.49,340.0v-6.2 M509.49,12.8v6.2 M550.40,340.0v-6.2 M550.40,12.8v6.2 M591.31,340.0v-6.2 M591.31,12.8v6.2 M632.22,340.0v-12 M632.22,12.8v12 M673.13,340.0v-6.2 M673.13,12.8v6.2 M714.04,340.0v-6.2 M714.04,12.8v6.2 M754.95,340.0v-6.2 M754.95,12.8v6.2 M795.86,340.0v-12 M795.86,12.8v12 M836.77,340.0v-6.2 M836.77,12.8v6.2 M877.68,340.0v-6.2 M877.68,12.8v6.2 M918.59,340.0v-6.2 M918.59,12.8v6.2" stroke="#000" stroke-width="2.3" fill="none"/>
<rect x="141.3" y="12.8" width="818.2" height="327.2" fill="none" stroke="#000" stroke-width="2.5"/>
<text transform="translate(81.68,26.00) scale(0.8227,1.0000)" font-size="32.80" fill="#000" stroke="#fff" stroke-width="0.065" stroke-linejoin="round">1</text>
<text transform="translate(95.60,26.50) scale(1.1095,1.0000)" font-size="32.80" fill="#000">.</text>
<text transform="translate(111.77,26.00) scale(0.9887,1.0000)" font-size="32.80" fill="#000" stroke="#fff" stroke-width="0.098" stroke-linejoin="round">2</text>
<text transform="translate(81.13,80.50) scale(0.9351,1.0000)" font-size="32.80" fill="#000" stroke="#fff" stroke-width="0.089" stroke-linejoin="round">0</text>
<text transform="translate(95.60,81.00) scale(1.1095,1.0000)" font-size="32.80" fill="#000">.</text>
<text transform="translate(112.03,80.50) scale(0.9351,1.0000)" font-size="32.80" fill="#000" stroke="#fff" stroke-width="0.089" stroke-linejoin="round">8</text>
<text transform="translate(81.13,135.00) scale(0.9351,1.0000)" font-size="32.80" fill="#000" stroke="#fff" stroke-width="0.089" stroke-linejoin="round">0</text>
<text transform="translate(95.60,135.50) scale(1.1095,1.0000)" font-size="32.80" fill="#000">.</text>
<text transform="translate(112.65,135.00) scale(0.8526,1.0000)" font-size="32.80" fill="#000" stroke="#fff" stroke-width="0.072" stroke-linejoin="round">4</text>
<text transform="translate(81.13,189.50) scale(0.9351,1.0000)" font-size="32.80" fill="#000" stroke="#fff" stroke-width="0.089" stroke-linejoin="round">0</text>
<text transform="translate(95.60,190.00) scale(1.1095,1.0000)" font-size="32.80" fill="#000">.</text>
<text transform="translate(112.03,189.50) scale(0.9351,1.0000)" font-size="32.80" fill="#000" stroke="#fff" stroke-width="0.089" stroke-linejoin="round">0</text>
<text transform="translate(81.13,244.00) scale(0.9351,1.0000)" font-size="32.80" fill="#000" stroke="#fff" stroke-width="0.089" stroke-linejoin="round">0</text>
<text transform="translate(95.60,244.50) scale(1.1095,1.0000)" font-size="32.80" fill="#000">.</text>
<text transform="translate(112.65,244.00) scale(0.8526,1.0000)" font-size="32.80" fill="#000" stroke="#fff" stroke-width="0.072" stroke-linejoin="round">4</text>
<rect x="65.1" y="231.40" width="14.1" height="1.3" fill="#000"/>
<text transform="translate(81.13,298.50) scale(0.9351,1.0000)" font-size="32.80" fill="#000" stroke="#fff" stroke-width="0.089" stroke-linejoin="round">0</text>
<text transform="translate(95.60,299.00) scale(1.1095,1.0000)" font-size="32.80" fill="#000">.</text>
<text transform="translate(112.03,298.50) scale(0.9351,1.0000)" font-size="32.80" fill="#000" stroke="#fff" stroke-width="0.089" stroke-linejoin="round">8</text>
<rect x="65.1" y="285.90" width="14.1" height="1.3" fill="#000"/>
<text transform="translate(81.68,353.00) scale(0.8227,1.0000)" font-size="32.80" fill="#000" stroke="#fff" stroke-width="0.065" stroke-linejoin="round">1</text>
<text transform="translate(95.60,353.50) scale(1.1095,1.0000)" font-size="32.80" fill="#000">.</text>
<text transform="translate(111.77,353.00) scale(0.9887,1.0000)" font-size="32.80" fill="#000" stroke="#fff" stroke-width="0.098" stroke-linejoin="round">2</text>
<rect x="65.1" y="340.40" width="14.1" height="1.3" fill="#000"/>
<text transform="translate(133.63,380.40) scale(0.9351,1.0000)" font-size="32.80" fill="#000" stroke="#fff" stroke-width="0.089" stroke-linejoin="round">0</text>
<text transform="translate(281.81,380.40) scale(0.9887,1.0000)" font-size="32.80" fill="#000" stroke="#fff" stroke-width="0.098" stroke-linejoin="round">2</text>
<text transform="translate(297.27,380.40) scale(0.9351,1.0000)" font-size="32.80" fill="#000" stroke="#fff" stroke-width="0.089" stroke-linejoin="round">0</text>
<text transform="translate(312.47,380.40) scale(0.9351,1.0000)" font-size="32.80" fill="#000" stroke="#fff" stroke-width="0.089" stroke-linejoin="round">0</text>
<text transform="translate(446.33,380.40) scale(0.8526,1.0000)" font-size="32.80" fill="#000" stroke="#fff" stroke-width="0.072" stroke-linejoin="round">4</text>
<text transform="translate(460.91,380.40) scale(0.9351,1.0000)" font-size="32.80" fill="#000" stroke="#fff" stroke-width="0.089" stroke-linejoin="round">0</text>
<text transform="translate(476.11,380.40) scale(0.9351,1.0000)" font-size="32.80" fill="#000" stroke="#fff" stroke-width="0.089" stroke-linejoin="round">0</text>
<text transform="translate(609.21,380.40) scale(0.9277,1.0000)" font-size="32.80" fill="#000" stroke="#fff" stroke-width="0.087" stroke-linejoin="round">6</text>
<text transform="translate(624.55,380.40) scale(0.9351,1.0000)" font-size="32.80" fill="#000" stroke="#fff" stroke-width="0.089" stroke-linejoin="round">0</text>
<text transform="translate(639.75,380.40) scale(0.9351,1.0000)" font-size="32.80" fill="#000" stroke="#fff" stroke-width="0.089" stroke-linejoin="round">0</text>
<text transform="translate(772.99,380.40) scale(0.9351,1.0000)" font-size="32.80" fill="#000" stroke="#fff" stroke-width="0.089" stroke-linejoin="round">8</text>
<text transform="translate(788.19,380.40) scale(0.9351,1.0000)" font-size="32.80" fill="#000" stroke="#fff" stroke-width="0.089" stroke-linejoin="round">0</text>
<text transform="translate(803.39,380.40) scale(0.9351,1.0000)" font-size="32.80" fill="#000" stroke="#fff" stroke-width="0.089" stroke-linejoin="round">0</text>
<text transform="translate(929.58,380.40) scale(0.8227,1.0000)" font-size="32.80" fill="#000" stroke="#fff" stroke-width="0.065" stroke-linejoin="round">1</text>
<text transform="translate(944.23,380.40) scale(0.9351,1.0000)" font-size="32.80" fill="#000" stroke="#fff" stroke-width="0.089" stroke-linejoin="round">0</text>
<text transform="translate(959.43,380.40) scale(0.9351,1.0000)" font-size="32.80" fill="#000" stroke="#fff" stroke-width="0.089" stroke-linejoin="round">0</text>
<text transform="translate(974.63,380.40) scale(0.9351,1.0000)" font-size="32.80" fill="#000" stroke="#fff" stroke-width="0.089" stroke-linejoin="round">0</text>
<text transform="translate(466.86,51.70) scale(1.1611,1.0000)" font-size="27.00" fill="#000" stroke="#fff" stroke-width="0.215" stroke-linejoin="round">I</text>
<text transform="translate(478.77,51.70) scale(1.1566,0.9600)" font-size="27.00" fill="#000" stroke="#fff" stroke-width="0.216" stroke-linejoin="round">s</text>
<text transform="translate(491.39,51.70) scale(0.9411,0.9600)" font-size="27.00" fill="#000" stroke="#fff" stroke-width="0.224" stroke-linejoin="round">o</text>
<text transform="translate(504.41,51.70) scale(1.1566,0.9600)" font-size="27.00" fill="#000" stroke="#fff" stroke-width="0.216" stroke-linejoin="round">s</text>
<text transform="translate(517.52,51.70) scale(0.9623,0.9600)" font-size="27.00" fill="#000" stroke="#fff" stroke-width="0.234" stroke-linejoin="round">c</text>
<text transform="translate(530.16,51.70) scale(0.9616,0.9600)" font-size="27.00" fill="#000" stroke="#fff" stroke-width="0.234" stroke-linejoin="round">a</text>
<text transform="translate(543.40,51.70) scale(1.4976,1.0000)" font-size="27.00" fill="#000" stroke="#fff" stroke-width="0.167" stroke-linejoin="round">l</text>
<text transform="translate(555.80,51.70) scale(0.9616,0.9600)" font-size="27.00" fill="#000" stroke="#fff" stroke-width="0.234" stroke-linejoin="round">a</text>
<text transform="translate(569.00,51.70) scale(1.2175,0.9600)" font-size="27.00" fill="#000" stroke="#fff" stroke-width="0.205" stroke-linejoin="round">r</text>
<text transform="translate(593.80,51.70) scale(0.6150,0.9600)" font-size="27.00" fill="#000">m</text>
<text transform="translate(606.77,51.70) scale(0.9411,0.9600)" font-size="27.00" fill="#000" stroke="#fff" stroke-width="0.224" stroke-linejoin="round">o</text>
<text transform="translate(619.60,51.70) scale(0.9251,0.9600)" font-size="27.00" fill="#000" stroke="#fff" stroke-width="0.217" stroke-linejoin="round">n</text>
<text transform="translate(632.41,51.70) scale(0.9411,0.9600)" font-size="27.00" fill="#000" stroke="#fff" stroke-width="0.224" stroke-linejoin="round">o</text>
<text transform="translate(645.67,51.70) scale(0.9180,0.9600)" font-size="27.00" fill="#000" stroke="#fff" stroke-width="0.214" stroke-linejoin="round">p</text>
<text transform="translate(658.05,51.70) scale(0.9411,0.9600)" font-size="27.00" fill="#000" stroke="#fff" stroke-width="0.224" stroke-linejoin="round">o</text>
<text transform="translate(671.60,51.70) scale(1.4976,1.0000)" font-size="27.00" fill="#000" stroke="#fff" stroke-width="0.167" stroke-linejoin="round">l</text>
<text transform="translate(683.67,51.70) scale(1.0520,0.9600)" font-size="27.00" fill="#000" stroke="#fff" stroke-width="0.238" stroke-linejoin="round">e</text>
<text transform="translate(710.02,51.70) scale(1.2175,0.9600)" font-size="27.00" fill="#000" stroke="#fff" stroke-width="0.205" stroke-linejoin="round">r</text>
<text transform="translate(722.13,51.70) scale(1.0520,0.9600)" font-size="27.00" fill="#000" stroke="#fff" stroke-width="0.238" stroke-linejoin="round">e</text>
<text transform="translate(735.17,51.70) scale(1.1566,0.9600)" font-size="27.00" fill="#000" stroke="#fff" stroke-width="0.216" stroke-linejoin="round">s</text>
<text transform="translate(748.23,51.70) scale(0.9180,0.9600)" font-size="27.00" fill="#000" stroke="#fff" stroke-width="0.214" stroke-linejoin="round">p</text>
<text transform="translate(760.61,51.70) scale(0.9411,0.9600)" font-size="27.00" fill="#000" stroke="#fff" stroke-width="0.224" stroke-linejoin="round">o</text>
<text transform="translate(773.44,51.70) scale(0.9251,0.9600)" font-size="27.00" fill="#000" stroke="#fff" stroke-width="0.217" stroke-linejoin="round">n</text>
<text transform="translate(786.45,51.70) scale(1.1566,0.9600)" font-size="27.00" fill="#000" stroke="#fff" stroke-width="0.216" stroke-linejoin="round">s</text>
<text transform="translate(799.05,51.70) scale(1.0520,0.9600)" font-size="27.00" fill="#000" stroke="#fff" stroke-width="0.238" stroke-linejoin="round">e</text>
<text transform="translate(824.71,51.70) scale(0.9411,0.9600)" font-size="27.00" fill="#000" stroke="#fff" stroke-width="0.224" stroke-linejoin="round">o</text>
<text transform="translate(838.09,51.70) scale(1.1782,1.0000)" font-size="27.00" fill="#000" stroke="#fff" stroke-width="0.212" stroke-linejoin="round">f</text>
<text transform="translate(886.64,40.30) scale(1.1721,1.0000)" font-size="16.60" fill="#000">2</text>
<text transform="translate(895.10,40.30) scale(1.1087,1.0000)" font-size="16.60" fill="#000">0</text>
<text transform="translate(903.31,40.30) scale(1.0944,1.0000)" font-size="16.60" fill="#000">8</text>
<text transform="translate(913.79,51.50) scale(0.8208,1.0000)" font-size="26.00" fill="#000" stroke="#fff" stroke-width="0.161" stroke-linejoin="round">P</text>
<text transform="translate(926.20,51.50) scale(0.9825,1.0000)" font-size="26.00" fill="#000" stroke="#fff" stroke-width="0.243" stroke-linejoin="round">b</text>
<line x1="344.3" y1="310.0" x2="395.0" y2="310.0" stroke="#656500" stroke-width="3.4" stroke-linecap="round" stroke-dasharray="0.01 5.55"/>
<line x1="488.8" y1="310.2" x2="540.1" y2="310.2" stroke="#ff0000" stroke-width="2.3"/>
<line x1="658.7" y1="310.0" x2="711" y2="310.0" stroke="#0000aa" stroke-width="2.5" stroke-linecap="round" stroke-dasharray="5.8 4.8 0.5 5.1"/>
<line x1="829.3" y1="310.0" x2="881" y2="310.0" stroke="#007400" stroke-width="2.5" stroke-linecap="round" stroke-dasharray="8.4 11.7"/>
<text transform="translate(408.92,320.00) scale(0.9430,1.0000)" font-size="27.00" fill="#656500" stroke="#fff" stroke-width="0.225" stroke-linejoin="round">S</text>
<text transform="translate(422.50,320.00) scale(0.8858,1.0000)" font-size="27.00" fill="#656500" stroke="#fff" stroke-width="0.197" stroke-linejoin="round">P</text>
<text transform="translate(435.35,320.00) scale(0.9542,1.0000)" font-size="27.00" fill="#656500" stroke="#fff" stroke-width="0.230" stroke-linejoin="round">6</text>
<text transform="translate(448.70,320.00) scale(1.1683,0.9600)" font-size="27.00" fill="#656500" stroke="#fff" stroke-width="0.214" stroke-linejoin="round">s</text>
<text transform="translate(552.82,320.00) scale(0.9430,1.0000)" font-size="27.00" fill="#ff0000" stroke="#fff" stroke-width="0.225" stroke-linejoin="round">S</text>
<text transform="translate(566.40,320.00) scale(0.8858,1.0000)" font-size="27.00" fill="#ff0000" stroke="#fff" stroke-width="0.197" stroke-linejoin="round">P</text>
<text transform="translate(579.25,320.00) scale(0.9542,1.0000)" font-size="27.00" fill="#ff0000" stroke="#fff" stroke-width="0.230" stroke-linejoin="round">6</text>
<text transform="translate(592.24,320.00) scale(0.6212,0.9600)" font-size="27.00" fill="#ff0000" stroke="#fff" stroke-width="0.001" stroke-linejoin="round">m</text>
<text transform="translate(723.02,320.00) scale(0.9430,1.0000)" font-size="27.00" fill="#0000aa" stroke="#fff" stroke-width="0.225" stroke-linejoin="round">S</text>
<text transform="translate(736.60,320.00) scale(0.8858,1.0000)" font-size="27.00" fill="#0000aa" stroke="#fff" stroke-width="0.197" stroke-linejoin="round">P</text>
<text transform="translate(749.45,320.00) scale(0.9542,1.0000)" font-size="27.00" fill="#0000aa" stroke="#fff" stroke-width="0.230" stroke-linejoin="round">6</text>
<text transform="translate(763.08,320.00) scale(0.8848,1.0000)" font-size="27.00" fill="#0000aa" stroke="#fff" stroke-width="0.197" stroke-linejoin="round">h</text>
<text transform="translate(893.52,320.00) scale(0.5540,1.0000)" font-size="27.00" fill="#007400">M</text>
<text transform="translate(905.97,320.00) scale(0.9430,1.0000)" font-size="27.00" fill="#007400" stroke="#fff" stroke-width="0.225" stroke-linejoin="round">S</text>
<text transform="translate(919.95,320.00) scale(0.7810,1.0000)" font-size="27.00" fill="#007400" stroke="#fff" stroke-width="0.136" stroke-linejoin="round">L</text>
<text transform="translate(932.99,320.00) scale(0.8447,1.0000)" font-size="27.00" fill="#007400" stroke="#fff" stroke-width="0.175" stroke-linejoin="round">1</text>
<text transform="translate(478.34,418.40) scale(1.2781,1.0000)" font-size="37.00" fill="#000" stroke="#fff" stroke-width="0.626" stroke-linejoin="round">t</text>
<text transform="translate(517.40,414.80) scale(1.1049,1.0000)" font-size="37.00" fill="#000" stroke="#fff" stroke-width="0.453" stroke-linejoin="round">(</text>
<text transform="translate(531.29,418.40) scale(1.3234,1.0000)" font-size="37.00" fill="#000" stroke="#fff" stroke-width="0.378" stroke-linejoin="round">f</text>
<text transform="translate(547.98,418.40) scale(0.6636,0.9500)" font-size="37.00" fill="#000" stroke="#fff" stroke-width="0.087" stroke-linejoin="round">m</text>
<text transform="translate(568.00,418.40) scale(1.5273,1.0000)" font-size="37.00" fill="#000" stroke="#fff" stroke-width="0.327" stroke-linejoin="round">/</text>
<text transform="translate(585.79,418.40) scale(1.0018,0.9600)" font-size="37.00" fill="#000" stroke="#fff" stroke-width="0.499" stroke-linejoin="round">c</text>
<text transform="translate(603.48,414.80) scale(1.0207,1.0000)" font-size="37.00" fill="#000" stroke="#fff" stroke-width="0.490" stroke-linejoin="round">)</text>
<g transform="translate(33.4,0) rotate(-90)"><text transform="translate(-266.84,0.00) scale(1.0241,1.0400)" font-size="37.00" fill="#000" stroke="#fff" stroke-width="0.488" stroke-linejoin="round">Δ</text><text transform="translate(-230.62,0.00) scale(0.8059,1.0000)" font-size="37.00" fill="#000" stroke="#fff" stroke-width="0.303" stroke-linejoin="round">Q</text><text transform="translate(-208.61,9.90) scale(0.9774,1.0000)" font-size="25.80" fill="#000" stroke="#fff" stroke-width="0.481" stroke-linejoin="round">I</text><text transform="translate(-198.59,9.90) scale(0.6895,1.0000)" font-size="25.80" fill="#000" stroke="#fff" stroke-width="0.133" stroke-linejoin="round">S</text><text transform="translate(-188.49,9.90) scale(0.6623,1.0000)" font-size="25.80" fill="#000" stroke="#fff" stroke-width="0.084" stroke-linejoin="round">M</text><text transform="translate(-134.75,-3.00) scale(0.8945,1.0000)" font-size="37.00" fill="#000" stroke="#fff" stroke-width="0.404" stroke-linejoin="round">(</text><text transform="translate(-123.20,0.00) scale(1.3145,0.9500)" font-size="37.00" fill="#000" stroke="#fff" stroke-width="0.380" stroke-linejoin="round">f</text><text transform="translate(-105.08,0.00) scale(0.6235,0.9200)" font-size="37.00" fill="#000" stroke="#fff" stroke-width="0.007" stroke-linejoin="round">m</text><text transform="translate(-88.07,-3.00) scale(1.0628,1.0000)" font-size="37.00" fill="#000" stroke="#fff" stroke-width="0.470" stroke-linejoin="round">)</text><path d="M-231.80,-25.90 L-241.30,-9.40 L-231.80,7.10" fill="none" stroke="#000" stroke-width="1.5"/><path d="M-171.00,-25.90 L-161.60,-9.40 L-171.00,7.10" fill="none" stroke="#000" stroke-width="1.5"/></g>
</g></svg>
</body></html>
